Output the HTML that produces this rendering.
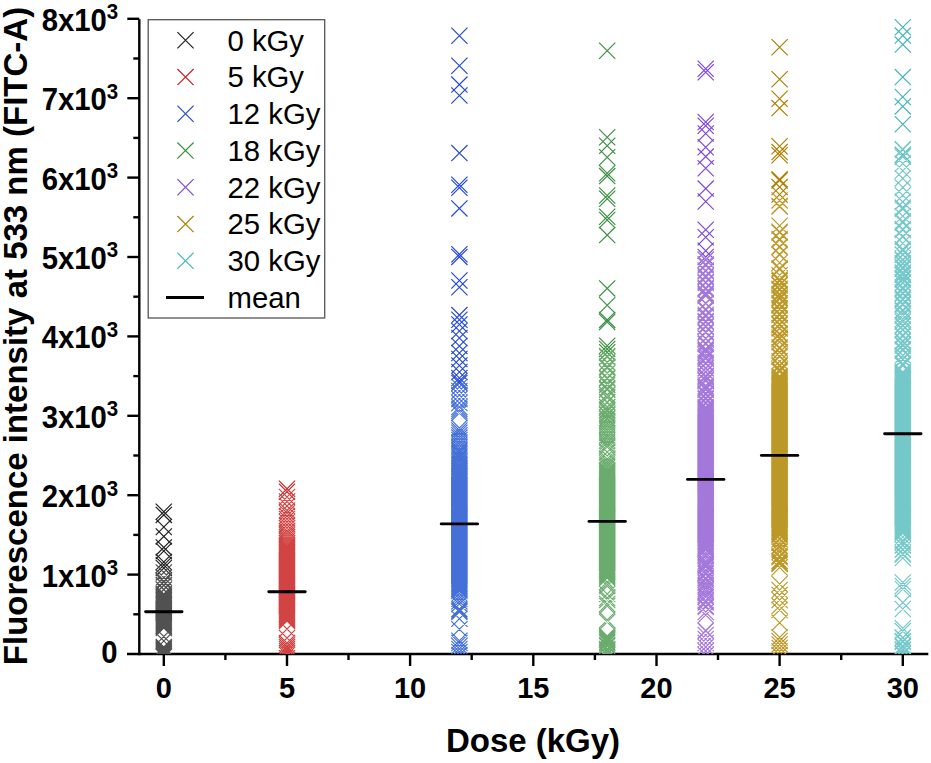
<!DOCTYPE html><html><head><meta charset="utf-8"><style>html,body{margin:0;padding:0;background:#fff;width:931px;height:763px;overflow:hidden}svg{display:block}</style></head><body><svg width="931" height="763" viewBox="0 0 931 763"><defs><clipPath id="cp"><rect x="139" y="0" width="792" height="654"/></clipPath></defs><g stroke="#000" stroke-width="2.4"><line x1="139.3" y1="19.3" x2="139.3" y2="655.2"/><line x1="127" y1="654" x2="928.3" y2="654"/><line x1="133.3" y1="614.3" x2="139.3" y2="614.3"/><line x1="127.3" y1="574.6" x2="139.3" y2="574.6"/><line x1="133.3" y1="534.9" x2="139.3" y2="534.9"/><line x1="127.3" y1="495.2" x2="139.3" y2="495.2"/><line x1="133.3" y1="455.5" x2="139.3" y2="455.5"/><line x1="127.3" y1="415.8" x2="139.3" y2="415.8"/><line x1="133.3" y1="376.1" x2="139.3" y2="376.1"/><line x1="127.3" y1="336.4" x2="139.3" y2="336.4"/><line x1="133.3" y1="296.7" x2="139.3" y2="296.7"/><line x1="127.3" y1="257.0" x2="139.3" y2="257.0"/><line x1="133.3" y1="217.3" x2="139.3" y2="217.3"/><line x1="127.3" y1="177.6" x2="139.3" y2="177.6"/><line x1="133.3" y1="137.9" x2="139.3" y2="137.9"/><line x1="127.3" y1="98.2" x2="139.3" y2="98.2"/><line x1="133.3" y1="58.5" x2="139.3" y2="58.5"/><line x1="127.3" y1="18.8" x2="139.3" y2="18.8"/><line x1="163.8" y1="654" x2="163.8" y2="666"/><line x1="225.4" y1="654" x2="225.4" y2="660"/><line x1="287.0" y1="654" x2="287.0" y2="666"/><line x1="348.5" y1="654" x2="348.5" y2="660"/><line x1="410.1" y1="654" x2="410.1" y2="666"/><line x1="471.7" y1="654" x2="471.7" y2="660"/><line x1="533.3" y1="654" x2="533.3" y2="666"/><line x1="594.9" y1="654" x2="594.9" y2="660"/><line x1="656.5" y1="654" x2="656.5" y2="666"/><line x1="718.0" y1="654" x2="718.0" y2="660"/><line x1="779.6" y1="654" x2="779.6" y2="666"/><line x1="841.2" y1="654" x2="841.2" y2="660"/><line x1="902.8" y1="654" x2="902.8" y2="666"/></g><g clip-path="url(#cp)" fill="none" stroke-width="1.2"><path stroke="#222222" d="M155.7 503.6l16.2 16.2M171.9 503.6l-16.2 16.2M155.7 506.8l16.2 16.2M171.9 506.8l-16.2 16.2M155.7 518.9l16.2 16.2M171.9 518.9l-16.2 16.2M155.7 528.3l16.2 16.2M171.9 528.3l-16.2 16.2M155.7 539.3l16.2 16.2M171.9 539.3l-16.2 16.2M155.7 542.9l16.2 16.2M171.9 542.9l-16.2 16.2M155.7 553.9l16.2 16.2M171.9 553.9l-16.2 16.2M155.7 556.9l16.2 16.2M171.9 556.9l-16.2 16.2M155.7 559.9l16.2 16.2M171.9 559.9l-16.2 16.2"/><path stroke="#515151" d="M155.7 564.3l16.2 16.2M171.9 564.3l-16.2 16.2M155.7 564.4l16.2 16.2M171.9 564.4l-16.2 16.2M155.7 569.5l16.2 16.2M171.9 569.5l-16.2 16.2M155.7 569.4l16.2 16.2M171.9 569.4l-16.2 16.2M155.7 573.8l16.2 16.2M171.9 573.8l-16.2 16.2M155.7 572.5l16.2 16.2M171.9 572.5l-16.2 16.2M155.7 577.4l16.2 16.2M171.9 577.4l-16.2 16.2M155.7 577.0l16.2 16.2M171.9 577.0l-16.2 16.2M155.7 581.6l16.2 16.2M171.9 581.6l-16.2 16.2M155.7 581.3l16.2 16.2M171.9 581.3l-16.2 16.2M155.7 585.9l16.2 16.2M171.9 585.9l-16.2 16.2M155.7 586.9l16.2 16.2M171.9 586.9l-16.2 16.2M155.7 587.9l16.2 16.2M171.9 587.9l-16.2 16.2M155.7 588.9l16.2 16.2M171.9 588.9l-16.2 16.2M155.7 589.9l16.2 16.2M171.9 589.9l-16.2 16.2M155.7 590.9l16.2 16.2M171.9 590.9l-16.2 16.2M155.7 591.9l16.2 16.2M171.9 591.9l-16.2 16.2M155.7 592.9l16.2 16.2M171.9 592.9l-16.2 16.2M155.7 593.9l16.2 16.2M171.9 593.9l-16.2 16.2M155.7 594.9l16.2 16.2M171.9 594.9l-16.2 16.2M155.7 595.9l16.2 16.2M171.9 595.9l-16.2 16.2M155.7 596.9l16.2 16.2M171.9 596.9l-16.2 16.2M155.7 597.9l16.2 16.2M171.9 597.9l-16.2 16.2M155.7 598.9l16.2 16.2M171.9 598.9l-16.2 16.2M155.7 599.9l16.2 16.2M171.9 599.9l-16.2 16.2M155.7 600.9l16.2 16.2M171.9 600.9l-16.2 16.2M155.7 601.9l16.2 16.2M171.9 601.9l-16.2 16.2M155.7 602.9l16.2 16.2M171.9 602.9l-16.2 16.2M155.7 603.9l16.2 16.2M171.9 603.9l-16.2 16.2M155.7 604.9l16.2 16.2M171.9 604.9l-16.2 16.2M155.7 605.9l16.2 16.2M171.9 605.9l-16.2 16.2M155.7 606.9l16.2 16.2M171.9 606.9l-16.2 16.2M155.7 607.9l16.2 16.2M171.9 607.9l-16.2 16.2M155.7 608.9l16.2 16.2M171.9 608.9l-16.2 16.2M155.7 609.9l16.2 16.2M171.9 609.9l-16.2 16.2M155.7 610.9l16.2 16.2M171.9 610.9l-16.2 16.2M155.7 611.9l16.2 16.2M171.9 611.9l-16.2 16.2M155.7 612.9l16.2 16.2M171.9 612.9l-16.2 16.2M155.7 613.9l16.2 16.2M171.9 613.9l-16.2 16.2M155.7 614.9l16.2 16.2M171.9 614.9l-16.2 16.2M155.7 615.9l16.2 16.2M171.9 615.9l-16.2 16.2M155.7 616.9l16.2 16.2M171.9 616.9l-16.2 16.2M155.7 617.9l16.2 16.2M171.9 617.9l-16.2 16.2M155.7 618.9l16.2 16.2M171.9 618.9l-16.2 16.2M155.7 619.9l16.2 16.2M171.9 619.9l-16.2 16.2M155.7 638.9l16.2 16.2M171.9 638.9l-16.2 16.2M155.7 639.9l16.2 16.2M171.9 639.9l-16.2 16.2M155.7 640.9l16.2 16.2M171.9 640.9l-16.2 16.2M155.7 641.9l16.2 16.2M171.9 641.9l-16.2 16.2M155.7 642.9l16.2 16.2M171.9 642.9l-16.2 16.2M155.7 643.9l16.2 16.2M171.9 643.9l-16.2 16.2M155.7 644.9l16.2 16.2M171.9 644.9l-16.2 16.2M155.7 645.9l16.2 16.2M171.9 645.9l-16.2 16.2M155.7 646.9l16.2 16.2M171.9 646.9l-16.2 16.2M155.7 647.9l16.2 16.2M171.9 647.9l-16.2 16.2M155.7 648.9l16.2 16.2M171.9 648.9l-16.2 16.2M155.7 628.4l16.2 16.2M171.9 628.4l-16.2 16.2M155.7 632.9l16.2 16.2M171.9 632.9l-16.2 16.2"/><path stroke="#cc2222" d="M278.9 480.7l16.2 16.2M295.1 480.7l-16.2 16.2M278.9 483.7l16.2 16.2M295.1 483.7l-16.2 16.2"/><path stroke="#d24343" d="M278.9 488.9l16.2 16.2M295.1 488.9l-16.2 16.2M278.9 493.4l16.2 16.2M295.1 493.4l-16.2 16.2M278.9 497.9l16.2 16.2M295.1 497.9l-16.2 16.2M278.9 502.4l16.2 16.2M295.1 502.4l-16.2 16.2M278.9 504.9l16.2 16.2M295.1 504.9l-16.2 16.2M278.9 507.9l16.2 16.2M295.1 507.9l-16.2 16.2M278.9 510.9l16.2 16.2M295.1 510.9l-16.2 16.2M278.9 513.9l16.2 16.2M295.1 513.9l-16.2 16.2M278.9 516.9l16.2 16.2M295.1 516.9l-16.2 16.2M278.9 519.9l16.2 16.2M295.1 519.9l-16.2 16.2M278.9 522.9l16.2 16.2M295.1 522.9l-16.2 16.2M278.9 524.9l16.2 16.2M295.1 524.9l-16.2 16.2M278.9 526.9l16.2 16.2M295.1 526.9l-16.2 16.2M278.9 528.9l16.2 16.2M295.1 528.9l-16.2 16.2M278.9 530.9l16.2 16.2M295.1 530.9l-16.2 16.2M278.9 532.9l16.2 16.2M295.1 532.9l-16.2 16.2M278.9 534.9l16.2 16.2M295.1 534.9l-16.2 16.2M278.9 536.9l16.2 16.2M295.1 536.9l-16.2 16.2M278.9 536.9l16.2 16.2M295.1 536.9l-16.2 16.2M278.9 537.9l16.2 16.2M295.1 537.9l-16.2 16.2M278.9 538.9l16.2 16.2M295.1 538.9l-16.2 16.2M278.9 539.9l16.2 16.2M295.1 539.9l-16.2 16.2M278.9 540.9l16.2 16.2M295.1 540.9l-16.2 16.2M278.9 541.9l16.2 16.2M295.1 541.9l-16.2 16.2M278.9 542.9l16.2 16.2M295.1 542.9l-16.2 16.2M278.9 543.9l16.2 16.2M295.1 543.9l-16.2 16.2M278.9 544.9l16.2 16.2M295.1 544.9l-16.2 16.2M278.9 545.9l16.2 16.2M295.1 545.9l-16.2 16.2M278.9 546.9l16.2 16.2M295.1 546.9l-16.2 16.2M278.9 547.9l16.2 16.2M295.1 547.9l-16.2 16.2M278.9 548.9l16.2 16.2M295.1 548.9l-16.2 16.2M278.9 549.9l16.2 16.2M295.1 549.9l-16.2 16.2M278.9 550.9l16.2 16.2M295.1 550.9l-16.2 16.2M278.9 551.9l16.2 16.2M295.1 551.9l-16.2 16.2M278.9 552.9l16.2 16.2M295.1 552.9l-16.2 16.2M278.9 553.9l16.2 16.2M295.1 553.9l-16.2 16.2M278.9 554.9l16.2 16.2M295.1 554.9l-16.2 16.2M278.9 555.9l16.2 16.2M295.1 555.9l-16.2 16.2M278.9 556.9l16.2 16.2M295.1 556.9l-16.2 16.2M278.9 557.9l16.2 16.2M295.1 557.9l-16.2 16.2M278.9 558.9l16.2 16.2M295.1 558.9l-16.2 16.2M278.9 559.9l16.2 16.2M295.1 559.9l-16.2 16.2M278.9 560.9l16.2 16.2M295.1 560.9l-16.2 16.2M278.9 561.9l16.2 16.2M295.1 561.9l-16.2 16.2M278.9 562.9l16.2 16.2M295.1 562.9l-16.2 16.2M278.9 563.9l16.2 16.2M295.1 563.9l-16.2 16.2M278.9 564.9l16.2 16.2M295.1 564.9l-16.2 16.2M278.9 565.9l16.2 16.2M295.1 565.9l-16.2 16.2M278.9 566.9l16.2 16.2M295.1 566.9l-16.2 16.2M278.9 567.9l16.2 16.2M295.1 567.9l-16.2 16.2M278.9 568.9l16.2 16.2M295.1 568.9l-16.2 16.2M278.9 569.9l16.2 16.2M295.1 569.9l-16.2 16.2M278.9 570.9l16.2 16.2M295.1 570.9l-16.2 16.2M278.9 571.9l16.2 16.2M295.1 571.9l-16.2 16.2M278.9 572.9l16.2 16.2M295.1 572.9l-16.2 16.2M278.9 573.9l16.2 16.2M295.1 573.9l-16.2 16.2M278.9 574.9l16.2 16.2M295.1 574.9l-16.2 16.2M278.9 575.9l16.2 16.2M295.1 575.9l-16.2 16.2M278.9 576.9l16.2 16.2M295.1 576.9l-16.2 16.2M278.9 577.9l16.2 16.2M295.1 577.9l-16.2 16.2M278.9 578.9l16.2 16.2M295.1 578.9l-16.2 16.2M278.9 579.9l16.2 16.2M295.1 579.9l-16.2 16.2M278.9 580.9l16.2 16.2M295.1 580.9l-16.2 16.2M278.9 581.9l16.2 16.2M295.1 581.9l-16.2 16.2M278.9 582.9l16.2 16.2M295.1 582.9l-16.2 16.2M278.9 583.9l16.2 16.2M295.1 583.9l-16.2 16.2M278.9 584.9l16.2 16.2M295.1 584.9l-16.2 16.2M278.9 585.9l16.2 16.2M295.1 585.9l-16.2 16.2M278.9 586.9l16.2 16.2M295.1 586.9l-16.2 16.2M278.9 587.9l16.2 16.2M295.1 587.9l-16.2 16.2M278.9 588.9l16.2 16.2M295.1 588.9l-16.2 16.2M278.9 589.9l16.2 16.2M295.1 589.9l-16.2 16.2M278.9 590.9l16.2 16.2M295.1 590.9l-16.2 16.2M278.9 591.9l16.2 16.2M295.1 591.9l-16.2 16.2M278.9 592.9l16.2 16.2M295.1 592.9l-16.2 16.2M278.9 593.9l16.2 16.2M295.1 593.9l-16.2 16.2M278.9 594.9l16.2 16.2M295.1 594.9l-16.2 16.2M278.9 595.9l16.2 16.2M295.1 595.9l-16.2 16.2M278.9 596.9l16.2 16.2M295.1 596.9l-16.2 16.2M278.9 597.9l16.2 16.2M295.1 597.9l-16.2 16.2M278.9 598.9l16.2 16.2M295.1 598.9l-16.2 16.2M278.9 599.9l16.2 16.2M295.1 599.9l-16.2 16.2M278.9 600.9l16.2 16.2M295.1 600.9l-16.2 16.2M278.9 601.9l16.2 16.2M295.1 601.9l-16.2 16.2M278.9 602.9l16.2 16.2M295.1 602.9l-16.2 16.2M278.9 603.9l16.2 16.2M295.1 603.9l-16.2 16.2M278.9 604.9l16.2 16.2M295.1 604.9l-16.2 16.2M278.9 605.9l16.2 16.2M295.1 605.9l-16.2 16.2M278.9 606.9l16.2 16.2M295.1 606.9l-16.2 16.2M278.9 607.9l16.2 16.2M295.1 607.9l-16.2 16.2M278.9 608.9l16.2 16.2M295.1 608.9l-16.2 16.2M278.9 609.9l16.2 16.2M295.1 609.9l-16.2 16.2M278.9 610.9l16.2 16.2M295.1 610.9l-16.2 16.2M278.9 611.9l16.2 16.2M295.1 611.9l-16.2 16.2M278.9 612.9l16.2 16.2M295.1 612.9l-16.2 16.2M278.9 634.9l16.2 16.2M295.1 634.9l-16.2 16.2M278.9 636.9l16.2 16.2M295.1 636.9l-16.2 16.2M278.9 638.9l16.2 16.2M295.1 638.9l-16.2 16.2M278.9 640.9l16.2 16.2M295.1 640.9l-16.2 16.2M278.9 642.9l16.2 16.2M295.1 642.9l-16.2 16.2M278.9 644.9l16.2 16.2M295.1 644.9l-16.2 16.2M278.9 646.9l16.2 16.2M295.1 646.9l-16.2 16.2M278.9 620.9l16.2 16.2M295.1 620.9l-16.2 16.2M278.9 629.9l16.2 16.2M295.1 629.9l-16.2 16.2"/><path stroke="#2448d8" d="M451.3 27.6l16.2 16.2M467.5 27.6l-16.2 16.2M451.3 57.6l16.2 16.2M467.5 57.6l-16.2 16.2M451.3 76.5l16.2 16.2M467.5 76.5l-16.2 16.2M451.3 87.4l16.2 16.2M467.5 87.4l-16.2 16.2M451.3 145.0l16.2 16.2M467.5 145.0l-16.2 16.2M451.3 176.6l16.2 16.2M467.5 176.6l-16.2 16.2M451.3 179.7l16.2 16.2M467.5 179.7l-16.2 16.2M451.3 200.3l16.2 16.2M467.5 200.3l-16.2 16.2M451.3 246.2l16.2 16.2M467.5 246.2l-16.2 16.2M451.3 248.8l16.2 16.2M467.5 248.8l-16.2 16.2M451.3 272.4l16.2 16.2M467.5 272.4l-16.2 16.2M451.3 279.2l16.2 16.2M467.5 279.2l-16.2 16.2M451.3 307.0l16.2 16.2M467.5 307.0l-16.2 16.2M451.3 311.7l16.2 16.2M467.5 311.7l-16.2 16.2M451.3 316.4l16.2 16.2M467.5 316.4l-16.2 16.2M451.3 322.9l16.2 16.2M467.5 322.9l-16.2 16.2M451.3 329.9l16.2 16.2M467.5 329.9l-16.2 16.2M451.3 337.9l16.2 16.2M467.5 337.9l-16.2 16.2M451.3 344.9l16.2 16.2M467.5 344.9l-16.2 16.2M451.3 350.9l16.2 16.2M467.5 350.9l-16.2 16.2M451.3 357.4l16.2 16.2M467.5 357.4l-16.2 16.2M451.3 363.9l16.2 16.2M467.5 363.9l-16.2 16.2M451.3 369.9l16.2 16.2M467.5 369.9l-16.2 16.2M451.3 372.9l16.2 16.2M467.5 372.9l-16.2 16.2M451.3 374.9l16.2 16.2M467.5 374.9l-16.2 16.2"/><path stroke="#4470d8" d="M451.3 378.9l16.2 16.2M467.5 378.9l-16.2 16.2M451.3 382.9l16.2 16.2M467.5 382.9l-16.2 16.2M451.3 386.9l16.2 16.2M467.5 386.9l-16.2 16.2M451.3 390.9l16.2 16.2M467.5 390.9l-16.2 16.2M451.3 394.9l16.2 16.2M467.5 394.9l-16.2 16.2M451.3 398.9l16.2 16.2M467.5 398.9l-16.2 16.2M451.3 402.9l16.2 16.2M467.5 402.9l-16.2 16.2M451.3 419.9l16.2 16.2M467.5 419.9l-16.2 16.2M451.3 422.3l16.2 16.2M467.5 422.3l-16.2 16.2M451.3 424.7l16.2 16.2M467.5 424.7l-16.2 16.2M451.3 427.1l16.2 16.2M467.5 427.1l-16.2 16.2M451.3 429.5l16.2 16.2M467.5 429.5l-16.2 16.2M451.3 431.9l16.2 16.2M467.5 431.9l-16.2 16.2M451.3 434.3l16.2 16.2M467.5 434.3l-16.2 16.2M451.3 436.7l16.2 16.2M467.5 436.7l-16.2 16.2M451.3 439.1l16.2 16.2M467.5 439.1l-16.2 16.2M451.3 441.5l16.2 16.2M467.5 441.5l-16.2 16.2M451.3 442.8l16.2 16.2M467.5 442.8l-16.2 16.2M451.3 444.7l16.2 16.2M467.5 444.7l-16.2 16.2M451.3 445.8l16.2 16.2M467.5 445.8l-16.2 16.2M451.3 447.8l16.2 16.2M467.5 447.8l-16.2 16.2M451.3 449.3l16.2 16.2M467.5 449.3l-16.2 16.2M451.3 450.7l16.2 16.2M467.5 450.7l-16.2 16.2M451.3 452.8l16.2 16.2M467.5 452.8l-16.2 16.2M451.3 453.8l16.2 16.2M467.5 453.8l-16.2 16.2M451.3 455.9l16.2 16.2M467.5 455.9l-16.2 16.2M451.3 457.6l16.2 16.2M467.5 457.6l-16.2 16.2M451.3 458.7l16.2 16.2M467.5 458.7l-16.2 16.2M451.3 460.3l16.2 16.2M467.5 460.3l-16.2 16.2M451.3 461.9l16.2 16.2M467.5 461.9l-16.2 16.2M451.3 462.9l16.2 16.2M467.5 462.9l-16.2 16.2M451.3 463.9l16.2 16.2M467.5 463.9l-16.2 16.2M451.3 464.9l16.2 16.2M467.5 464.9l-16.2 16.2M451.3 465.9l16.2 16.2M467.5 465.9l-16.2 16.2M451.3 466.9l16.2 16.2M467.5 466.9l-16.2 16.2M451.3 467.9l16.2 16.2M467.5 467.9l-16.2 16.2M451.3 468.9l16.2 16.2M467.5 468.9l-16.2 16.2M451.3 469.9l16.2 16.2M467.5 469.9l-16.2 16.2M451.3 470.9l16.2 16.2M467.5 470.9l-16.2 16.2M451.3 471.9l16.2 16.2M467.5 471.9l-16.2 16.2M451.3 472.9l16.2 16.2M467.5 472.9l-16.2 16.2M451.3 473.9l16.2 16.2M467.5 473.9l-16.2 16.2M451.3 474.9l16.2 16.2M467.5 474.9l-16.2 16.2M451.3 475.9l16.2 16.2M467.5 475.9l-16.2 16.2M451.3 476.9l16.2 16.2M467.5 476.9l-16.2 16.2M451.3 477.9l16.2 16.2M467.5 477.9l-16.2 16.2M451.3 478.9l16.2 16.2M467.5 478.9l-16.2 16.2M451.3 479.9l16.2 16.2M467.5 479.9l-16.2 16.2M451.3 480.9l16.2 16.2M467.5 480.9l-16.2 16.2M451.3 481.9l16.2 16.2M467.5 481.9l-16.2 16.2M451.3 482.9l16.2 16.2M467.5 482.9l-16.2 16.2M451.3 483.9l16.2 16.2M467.5 483.9l-16.2 16.2M451.3 484.9l16.2 16.2M467.5 484.9l-16.2 16.2M451.3 485.9l16.2 16.2M467.5 485.9l-16.2 16.2M451.3 486.9l16.2 16.2M467.5 486.9l-16.2 16.2M451.3 487.9l16.2 16.2M467.5 487.9l-16.2 16.2M451.3 488.9l16.2 16.2M467.5 488.9l-16.2 16.2M451.3 489.9l16.2 16.2M467.5 489.9l-16.2 16.2M451.3 490.9l16.2 16.2M467.5 490.9l-16.2 16.2M451.3 491.9l16.2 16.2M467.5 491.9l-16.2 16.2M451.3 492.9l16.2 16.2M467.5 492.9l-16.2 16.2M451.3 493.9l16.2 16.2M467.5 493.9l-16.2 16.2M451.3 494.9l16.2 16.2M467.5 494.9l-16.2 16.2M451.3 495.9l16.2 16.2M467.5 495.9l-16.2 16.2M451.3 496.9l16.2 16.2M467.5 496.9l-16.2 16.2M451.3 497.9l16.2 16.2M467.5 497.9l-16.2 16.2M451.3 498.9l16.2 16.2M467.5 498.9l-16.2 16.2M451.3 499.9l16.2 16.2M467.5 499.9l-16.2 16.2M451.3 500.9l16.2 16.2M467.5 500.9l-16.2 16.2M451.3 501.9l16.2 16.2M467.5 501.9l-16.2 16.2M451.3 502.9l16.2 16.2M467.5 502.9l-16.2 16.2M451.3 503.9l16.2 16.2M467.5 503.9l-16.2 16.2M451.3 504.9l16.2 16.2M467.5 504.9l-16.2 16.2M451.3 505.9l16.2 16.2M467.5 505.9l-16.2 16.2M451.3 506.9l16.2 16.2M467.5 506.9l-16.2 16.2M451.3 507.9l16.2 16.2M467.5 507.9l-16.2 16.2M451.3 508.9l16.2 16.2M467.5 508.9l-16.2 16.2M451.3 509.9l16.2 16.2M467.5 509.9l-16.2 16.2M451.3 510.9l16.2 16.2M467.5 510.9l-16.2 16.2M451.3 511.9l16.2 16.2M467.5 511.9l-16.2 16.2M451.3 512.9l16.2 16.2M467.5 512.9l-16.2 16.2M451.3 513.9l16.2 16.2M467.5 513.9l-16.2 16.2M451.3 514.9l16.2 16.2M467.5 514.9l-16.2 16.2M451.3 515.9l16.2 16.2M467.5 515.9l-16.2 16.2M451.3 516.9l16.2 16.2M467.5 516.9l-16.2 16.2M451.3 517.9l16.2 16.2M467.5 517.9l-16.2 16.2M451.3 518.9l16.2 16.2M467.5 518.9l-16.2 16.2M451.3 519.9l16.2 16.2M467.5 519.9l-16.2 16.2M451.3 520.9l16.2 16.2M467.5 520.9l-16.2 16.2M451.3 521.9l16.2 16.2M467.5 521.9l-16.2 16.2M451.3 522.9l16.2 16.2M467.5 522.9l-16.2 16.2M451.3 523.9l16.2 16.2M467.5 523.9l-16.2 16.2M451.3 524.9l16.2 16.2M467.5 524.9l-16.2 16.2M451.3 525.9l16.2 16.2M467.5 525.9l-16.2 16.2M451.3 526.9l16.2 16.2M467.5 526.9l-16.2 16.2M451.3 527.9l16.2 16.2M467.5 527.9l-16.2 16.2M451.3 528.9l16.2 16.2M467.5 528.9l-16.2 16.2M451.3 529.9l16.2 16.2M467.5 529.9l-16.2 16.2M451.3 530.9l16.2 16.2M467.5 530.9l-16.2 16.2M451.3 531.9l16.2 16.2M467.5 531.9l-16.2 16.2M451.3 532.9l16.2 16.2M467.5 532.9l-16.2 16.2M451.3 533.9l16.2 16.2M467.5 533.9l-16.2 16.2M451.3 534.9l16.2 16.2M467.5 534.9l-16.2 16.2M451.3 535.9l16.2 16.2M467.5 535.9l-16.2 16.2M451.3 536.9l16.2 16.2M467.5 536.9l-16.2 16.2M451.3 537.9l16.2 16.2M467.5 537.9l-16.2 16.2M451.3 538.9l16.2 16.2M467.5 538.9l-16.2 16.2M451.3 539.9l16.2 16.2M467.5 539.9l-16.2 16.2M451.3 540.9l16.2 16.2M467.5 540.9l-16.2 16.2M451.3 541.9l16.2 16.2M467.5 541.9l-16.2 16.2M451.3 542.9l16.2 16.2M467.5 542.9l-16.2 16.2M451.3 543.9l16.2 16.2M467.5 543.9l-16.2 16.2M451.3 544.9l16.2 16.2M467.5 544.9l-16.2 16.2M451.3 545.9l16.2 16.2M467.5 545.9l-16.2 16.2M451.3 546.9l16.2 16.2M467.5 546.9l-16.2 16.2M451.3 547.9l16.2 16.2M467.5 547.9l-16.2 16.2M451.3 548.9l16.2 16.2M467.5 548.9l-16.2 16.2M451.3 549.9l16.2 16.2M467.5 549.9l-16.2 16.2M451.3 550.9l16.2 16.2M467.5 550.9l-16.2 16.2M451.3 551.9l16.2 16.2M467.5 551.9l-16.2 16.2M451.3 552.9l16.2 16.2M467.5 552.9l-16.2 16.2M451.3 553.9l16.2 16.2M467.5 553.9l-16.2 16.2M451.3 554.9l16.2 16.2M467.5 554.9l-16.2 16.2M451.3 555.9l16.2 16.2M467.5 555.9l-16.2 16.2M451.3 556.9l16.2 16.2M467.5 556.9l-16.2 16.2M451.3 557.9l16.2 16.2M467.5 557.9l-16.2 16.2M451.3 558.9l16.2 16.2M467.5 558.9l-16.2 16.2M451.3 559.9l16.2 16.2M467.5 559.9l-16.2 16.2M451.3 560.9l16.2 16.2M467.5 560.9l-16.2 16.2M451.3 561.9l16.2 16.2M467.5 561.9l-16.2 16.2M451.3 562.9l16.2 16.2M467.5 562.9l-16.2 16.2M451.3 563.9l16.2 16.2M467.5 563.9l-16.2 16.2M451.3 564.9l16.2 16.2M467.5 564.9l-16.2 16.2M451.3 565.9l16.2 16.2M467.5 565.9l-16.2 16.2M451.3 566.9l16.2 16.2M467.5 566.9l-16.2 16.2M451.3 567.9l16.2 16.2M467.5 567.9l-16.2 16.2M451.3 568.9l16.2 16.2M467.5 568.9l-16.2 16.2M451.3 569.9l16.2 16.2M467.5 569.9l-16.2 16.2M451.3 570.9l16.2 16.2M467.5 570.9l-16.2 16.2M451.3 571.9l16.2 16.2M467.5 571.9l-16.2 16.2M451.3 572.9l16.2 16.2M467.5 572.9l-16.2 16.2M451.3 573.9l16.2 16.2M467.5 573.9l-16.2 16.2M451.3 574.9l16.2 16.2M467.5 574.9l-16.2 16.2M451.3 575.9l16.2 16.2M467.5 575.9l-16.2 16.2M451.3 576.9l16.2 16.2M467.5 576.9l-16.2 16.2M451.3 577.9l16.2 16.2M467.5 577.9l-16.2 16.2M451.3 578.9l16.2 16.2M467.5 578.9l-16.2 16.2M451.3 579.9l16.2 16.2M467.5 579.9l-16.2 16.2M451.3 580.9l16.2 16.2M467.5 580.9l-16.2 16.2M451.3 581.9l16.2 16.2M467.5 581.9l-16.2 16.2M451.3 582.9l16.2 16.2M467.5 582.9l-16.2 16.2M451.3 582.9l16.2 16.2M467.5 582.9l-16.2 16.2M451.3 585.5l16.2 16.2M467.5 585.5l-16.2 16.2M451.3 588.1l16.2 16.2M467.5 588.1l-16.2 16.2M451.3 590.7l16.2 16.2M467.5 590.7l-16.2 16.2M451.3 593.3l16.2 16.2M467.5 593.3l-16.2 16.2M451.3 595.9l16.2 16.2M467.5 595.9l-16.2 16.2M451.3 634.9l16.2 16.2M467.5 634.9l-16.2 16.2M451.3 637.9l16.2 16.2M467.5 637.9l-16.2 16.2M451.3 640.9l16.2 16.2M467.5 640.9l-16.2 16.2M451.3 643.9l16.2 16.2M467.5 643.9l-16.2 16.2M451.3 646.9l16.2 16.2M467.5 646.9l-16.2 16.2M451.3 400.9l16.2 16.2M467.5 400.9l-16.2 16.2M451.3 404.9l16.2 16.2M467.5 404.9l-16.2 16.2M451.3 600.9l16.2 16.2M467.5 600.9l-16.2 16.2M451.3 602.4l16.2 16.2M467.5 602.4l-16.2 16.2M451.3 603.9l16.2 16.2M467.5 603.9l-16.2 16.2M451.3 610.7l16.2 16.2M467.5 610.7l-16.2 16.2M451.3 621.2l16.2 16.2M467.5 621.2l-16.2 16.2M451.3 632.7l16.2 16.2M467.5 632.7l-16.2 16.2"/><path stroke="#3c9042" d="M599.1 42.7l16.2 16.2M615.3 42.7l-16.2 16.2M599.1 129.2l16.2 16.2M615.3 129.2l-16.2 16.2M599.1 137.6l16.2 16.2M615.3 137.6l-16.2 16.2M599.1 149.2l16.2 16.2M615.3 149.2l-16.2 16.2M599.1 165.1l16.2 16.2M615.3 165.1l-16.2 16.2M599.1 168.0l16.2 16.2M615.3 168.0l-16.2 16.2M599.1 187.4l16.2 16.2M615.3 187.4l-16.2 16.2M599.1 190.7l16.2 16.2M615.3 190.7l-16.2 16.2M599.1 208.7l16.2 16.2M615.3 208.7l-16.2 16.2M599.1 211.9l16.2 16.2M615.3 211.9l-16.2 16.2M599.1 227.0l16.2 16.2M615.3 227.0l-16.2 16.2M599.1 280.3l16.2 16.2M615.3 280.3l-16.2 16.2M599.1 297.1l16.2 16.2M615.3 297.1l-16.2 16.2M599.1 311.8l16.2 16.2M615.3 311.8l-16.2 16.2M599.1 313.9l16.2 16.2M615.3 313.9l-16.2 16.2M599.1 337.6l16.2 16.2M615.3 337.6l-16.2 16.2M599.1 340.9l16.2 16.2M615.3 340.9l-16.2 16.2M599.1 344.1l16.2 16.2M615.3 344.1l-16.2 16.2"/><path stroke="#6aac6d" d="M599.1 348.8l16.2 16.2M615.3 348.8l-16.2 16.2M599.1 348.0l16.2 16.2M615.3 348.0l-16.2 16.2M599.1 348.3l16.2 16.2M615.3 348.3l-16.2 16.2M599.1 354.3l16.2 16.2M615.3 354.3l-16.2 16.2M599.1 354.2l16.2 16.2M615.3 354.2l-16.2 16.2M599.1 358.8l16.2 16.2M615.3 358.8l-16.2 16.2M599.1 359.9l16.2 16.2M615.3 359.9l-16.2 16.2M599.1 358.5l16.2 16.2M615.3 358.5l-16.2 16.2M599.1 364.9l16.2 16.2M615.3 364.9l-16.2 16.2M599.1 365.1l16.2 16.2M615.3 365.1l-16.2 16.2M599.1 370.6l16.2 16.2M615.3 370.6l-16.2 16.2M599.1 369.9l16.2 16.2M615.3 369.9l-16.2 16.2M599.1 369.6l16.2 16.2M615.3 369.6l-16.2 16.2M599.1 375.0l16.2 16.2M615.3 375.0l-16.2 16.2M599.1 376.8l16.2 16.2M615.3 376.8l-16.2 16.2M599.1 381.7l16.2 16.2M615.3 381.7l-16.2 16.2M599.1 380.1l16.2 16.2M615.3 380.1l-16.2 16.2M599.1 381.6l16.2 16.2M615.3 381.6l-16.2 16.2M599.1 386.7l16.2 16.2M615.3 386.7l-16.2 16.2M599.1 387.2l16.2 16.2M615.3 387.2l-16.2 16.2M599.1 389.1l16.2 16.2M615.3 389.1l-16.2 16.2M599.1 389.4l16.2 16.2M615.3 389.4l-16.2 16.2M599.1 394.0l16.2 16.2M615.3 394.0l-16.2 16.2M599.1 394.0l16.2 16.2M615.3 394.0l-16.2 16.2M599.1 394.3l16.2 16.2M615.3 394.3l-16.2 16.2M599.1 398.8l16.2 16.2M615.3 398.8l-16.2 16.2M599.1 399.2l16.2 16.2M615.3 399.2l-16.2 16.2M599.1 401.5l16.2 16.2M615.3 401.5l-16.2 16.2M599.1 403.3l16.2 16.2M615.3 403.3l-16.2 16.2M599.1 401.6l16.2 16.2M615.3 401.6l-16.2 16.2M599.1 407.1l16.2 16.2M615.3 407.1l-16.2 16.2M599.1 405.9l16.2 16.2M615.3 405.9l-16.2 16.2M599.1 407.1l16.2 16.2M615.3 407.1l-16.2 16.2M599.1 410.7l16.2 16.2M615.3 410.7l-16.2 16.2M599.1 409.9l16.2 16.2M615.3 409.9l-16.2 16.2M599.1 410.9l16.2 16.2M615.3 410.9l-16.2 16.2M599.1 412.9l16.2 16.2M615.3 412.9l-16.2 16.2M599.1 415.3l16.2 16.2M615.3 415.3l-16.2 16.2M599.1 417.7l16.2 16.2M615.3 417.7l-16.2 16.2M599.1 420.1l16.2 16.2M615.3 420.1l-16.2 16.2M599.1 422.5l16.2 16.2M615.3 422.5l-16.2 16.2M599.1 424.9l16.2 16.2M615.3 424.9l-16.2 16.2M599.1 427.3l16.2 16.2M615.3 427.3l-16.2 16.2M599.1 429.7l16.2 16.2M615.3 429.7l-16.2 16.2M599.1 432.1l16.2 16.2M615.3 432.1l-16.2 16.2M599.1 434.5l16.2 16.2M615.3 434.5l-16.2 16.2M599.1 436.9l16.2 16.2M615.3 436.9l-16.2 16.2M599.1 450.9l16.2 16.2M615.3 450.9l-16.2 16.2M599.1 453.1l16.2 16.2M615.3 453.1l-16.2 16.2M599.1 455.3l16.2 16.2M615.3 455.3l-16.2 16.2M599.1 457.5l16.2 16.2M615.3 457.5l-16.2 16.2M599.1 459.7l16.2 16.2M615.3 459.7l-16.2 16.2M599.1 461.9l16.2 16.2M615.3 461.9l-16.2 16.2M599.1 461.9l16.2 16.2M615.3 461.9l-16.2 16.2M599.1 462.9l16.2 16.2M615.3 462.9l-16.2 16.2M599.1 463.9l16.2 16.2M615.3 463.9l-16.2 16.2M599.1 464.9l16.2 16.2M615.3 464.9l-16.2 16.2M599.1 465.9l16.2 16.2M615.3 465.9l-16.2 16.2M599.1 466.9l16.2 16.2M615.3 466.9l-16.2 16.2M599.1 467.9l16.2 16.2M615.3 467.9l-16.2 16.2M599.1 468.9l16.2 16.2M615.3 468.9l-16.2 16.2M599.1 469.9l16.2 16.2M615.3 469.9l-16.2 16.2M599.1 470.9l16.2 16.2M615.3 470.9l-16.2 16.2M599.1 471.9l16.2 16.2M615.3 471.9l-16.2 16.2M599.1 472.9l16.2 16.2M615.3 472.9l-16.2 16.2M599.1 473.9l16.2 16.2M615.3 473.9l-16.2 16.2M599.1 474.9l16.2 16.2M615.3 474.9l-16.2 16.2M599.1 475.9l16.2 16.2M615.3 475.9l-16.2 16.2M599.1 476.9l16.2 16.2M615.3 476.9l-16.2 16.2M599.1 477.9l16.2 16.2M615.3 477.9l-16.2 16.2M599.1 478.9l16.2 16.2M615.3 478.9l-16.2 16.2M599.1 479.9l16.2 16.2M615.3 479.9l-16.2 16.2M599.1 480.9l16.2 16.2M615.3 480.9l-16.2 16.2M599.1 481.9l16.2 16.2M615.3 481.9l-16.2 16.2M599.1 482.9l16.2 16.2M615.3 482.9l-16.2 16.2M599.1 483.9l16.2 16.2M615.3 483.9l-16.2 16.2M599.1 484.9l16.2 16.2M615.3 484.9l-16.2 16.2M599.1 485.9l16.2 16.2M615.3 485.9l-16.2 16.2M599.1 486.9l16.2 16.2M615.3 486.9l-16.2 16.2M599.1 487.9l16.2 16.2M615.3 487.9l-16.2 16.2M599.1 488.9l16.2 16.2M615.3 488.9l-16.2 16.2M599.1 489.9l16.2 16.2M615.3 489.9l-16.2 16.2M599.1 490.9l16.2 16.2M615.3 490.9l-16.2 16.2M599.1 491.9l16.2 16.2M615.3 491.9l-16.2 16.2M599.1 492.9l16.2 16.2M615.3 492.9l-16.2 16.2M599.1 493.9l16.2 16.2M615.3 493.9l-16.2 16.2M599.1 494.9l16.2 16.2M615.3 494.9l-16.2 16.2M599.1 495.9l16.2 16.2M615.3 495.9l-16.2 16.2M599.1 496.9l16.2 16.2M615.3 496.9l-16.2 16.2M599.1 497.9l16.2 16.2M615.3 497.9l-16.2 16.2M599.1 498.9l16.2 16.2M615.3 498.9l-16.2 16.2M599.1 499.9l16.2 16.2M615.3 499.9l-16.2 16.2M599.1 500.9l16.2 16.2M615.3 500.9l-16.2 16.2M599.1 501.9l16.2 16.2M615.3 501.9l-16.2 16.2M599.1 502.9l16.2 16.2M615.3 502.9l-16.2 16.2M599.1 503.9l16.2 16.2M615.3 503.9l-16.2 16.2M599.1 504.9l16.2 16.2M615.3 504.9l-16.2 16.2M599.1 505.9l16.2 16.2M615.3 505.9l-16.2 16.2M599.1 506.9l16.2 16.2M615.3 506.9l-16.2 16.2M599.1 507.9l16.2 16.2M615.3 507.9l-16.2 16.2M599.1 508.9l16.2 16.2M615.3 508.9l-16.2 16.2M599.1 509.9l16.2 16.2M615.3 509.9l-16.2 16.2M599.1 510.9l16.2 16.2M615.3 510.9l-16.2 16.2M599.1 511.9l16.2 16.2M615.3 511.9l-16.2 16.2M599.1 512.9l16.2 16.2M615.3 512.9l-16.2 16.2M599.1 513.9l16.2 16.2M615.3 513.9l-16.2 16.2M599.1 514.9l16.2 16.2M615.3 514.9l-16.2 16.2M599.1 515.9l16.2 16.2M615.3 515.9l-16.2 16.2M599.1 516.9l16.2 16.2M615.3 516.9l-16.2 16.2M599.1 517.9l16.2 16.2M615.3 517.9l-16.2 16.2M599.1 518.9l16.2 16.2M615.3 518.9l-16.2 16.2M599.1 519.9l16.2 16.2M615.3 519.9l-16.2 16.2M599.1 520.9l16.2 16.2M615.3 520.9l-16.2 16.2M599.1 521.9l16.2 16.2M615.3 521.9l-16.2 16.2M599.1 522.9l16.2 16.2M615.3 522.9l-16.2 16.2M599.1 523.9l16.2 16.2M615.3 523.9l-16.2 16.2M599.1 524.9l16.2 16.2M615.3 524.9l-16.2 16.2M599.1 525.9l16.2 16.2M615.3 525.9l-16.2 16.2M599.1 526.9l16.2 16.2M615.3 526.9l-16.2 16.2M599.1 527.9l16.2 16.2M615.3 527.9l-16.2 16.2M599.1 528.9l16.2 16.2M615.3 528.9l-16.2 16.2M599.1 529.9l16.2 16.2M615.3 529.9l-16.2 16.2M599.1 530.9l16.2 16.2M615.3 530.9l-16.2 16.2M599.1 531.9l16.2 16.2M615.3 531.9l-16.2 16.2M599.1 532.9l16.2 16.2M615.3 532.9l-16.2 16.2M599.1 533.9l16.2 16.2M615.3 533.9l-16.2 16.2M599.1 534.9l16.2 16.2M615.3 534.9l-16.2 16.2M599.1 535.9l16.2 16.2M615.3 535.9l-16.2 16.2M599.1 536.9l16.2 16.2M615.3 536.9l-16.2 16.2M599.1 537.9l16.2 16.2M615.3 537.9l-16.2 16.2M599.1 538.9l16.2 16.2M615.3 538.9l-16.2 16.2M599.1 539.9l16.2 16.2M615.3 539.9l-16.2 16.2M599.1 540.9l16.2 16.2M615.3 540.9l-16.2 16.2M599.1 541.9l16.2 16.2M615.3 541.9l-16.2 16.2M599.1 542.9l16.2 16.2M615.3 542.9l-16.2 16.2M599.1 543.9l16.2 16.2M615.3 543.9l-16.2 16.2M599.1 544.9l16.2 16.2M615.3 544.9l-16.2 16.2M599.1 545.9l16.2 16.2M615.3 545.9l-16.2 16.2M599.1 546.9l16.2 16.2M615.3 546.9l-16.2 16.2M599.1 547.9l16.2 16.2M615.3 547.9l-16.2 16.2M599.1 548.9l16.2 16.2M615.3 548.9l-16.2 16.2M599.1 549.9l16.2 16.2M615.3 549.9l-16.2 16.2M599.1 550.9l16.2 16.2M615.3 550.9l-16.2 16.2M599.1 551.9l16.2 16.2M615.3 551.9l-16.2 16.2M599.1 552.9l16.2 16.2M615.3 552.9l-16.2 16.2M599.1 553.9l16.2 16.2M615.3 553.9l-16.2 16.2M599.1 554.9l16.2 16.2M615.3 554.9l-16.2 16.2M599.1 555.9l16.2 16.2M615.3 555.9l-16.2 16.2M599.1 556.9l16.2 16.2M615.3 556.9l-16.2 16.2M599.1 557.9l16.2 16.2M615.3 557.9l-16.2 16.2M599.1 558.9l16.2 16.2M615.3 558.9l-16.2 16.2M599.1 559.9l16.2 16.2M615.3 559.9l-16.2 16.2M599.1 560.9l16.2 16.2M615.3 560.9l-16.2 16.2M599.1 561.9l16.2 16.2M615.3 561.9l-16.2 16.2M599.1 562.9l16.2 16.2M615.3 562.9l-16.2 16.2M599.1 563.9l16.2 16.2M615.3 563.9l-16.2 16.2M599.1 564.9l16.2 16.2M615.3 564.9l-16.2 16.2M599.1 565.9l16.2 16.2M615.3 565.9l-16.2 16.2M599.1 566.9l16.2 16.2M615.3 566.9l-16.2 16.2M599.1 567.9l16.2 16.2M615.3 567.9l-16.2 16.2M599.1 568.9l16.2 16.2M615.3 568.9l-16.2 16.2M599.1 569.9l16.2 16.2M615.3 569.9l-16.2 16.2M599.1 629.8l16.2 16.2M615.3 629.8l-16.2 16.2M599.1 628.3l16.2 16.2M615.3 628.3l-16.2 16.2M599.1 630.5l16.2 16.2M615.3 630.5l-16.2 16.2M599.1 631.8l16.2 16.2M615.3 631.8l-16.2 16.2M599.1 631.1l16.2 16.2M615.3 631.1l-16.2 16.2M599.1 633.4l16.2 16.2M615.3 633.4l-16.2 16.2M599.1 634.9l16.2 16.2M615.3 634.9l-16.2 16.2M599.1 634.3l16.2 16.2M615.3 634.3l-16.2 16.2M599.1 638.0l16.2 16.2M615.3 638.0l-16.2 16.2M599.1 636.8l16.2 16.2M615.3 636.8l-16.2 16.2M599.1 640.9l16.2 16.2M615.3 640.9l-16.2 16.2M599.1 641.2l16.2 16.2M615.3 641.2l-16.2 16.2M599.1 643.0l16.2 16.2M615.3 643.0l-16.2 16.2M599.1 642.4l16.2 16.2M615.3 642.4l-16.2 16.2M599.1 643.1l16.2 16.2M615.3 643.1l-16.2 16.2M599.1 646.7l16.2 16.2M615.3 646.7l-16.2 16.2M599.1 645.7l16.2 16.2M615.3 645.7l-16.2 16.2M599.1 438.9l16.2 16.2M615.3 438.9l-16.2 16.2M599.1 443.9l16.2 16.2M615.3 443.9l-16.2 16.2M599.1 447.9l16.2 16.2M615.3 447.9l-16.2 16.2M599.1 573.9l16.2 16.2M615.3 573.9l-16.2 16.2M599.1 575.9l16.2 16.2M615.3 575.9l-16.2 16.2M599.1 577.9l16.2 16.2M615.3 577.9l-16.2 16.2M599.1 585.9l16.2 16.2M615.3 585.9l-16.2 16.2M599.1 589.9l16.2 16.2M615.3 589.9l-16.2 16.2M599.1 591.9l16.2 16.2M615.3 591.9l-16.2 16.2M599.1 595.9l16.2 16.2M615.3 595.9l-16.2 16.2M599.1 597.9l16.2 16.2M615.3 597.9l-16.2 16.2M599.1 611.9l16.2 16.2M615.3 611.9l-16.2 16.2M599.1 613.9l16.2 16.2M615.3 613.9l-16.2 16.2M599.1 627.9l16.2 16.2M615.3 627.9l-16.2 16.2"/><path stroke="#7e46d8" d="M697.6 60.7l16.2 16.2M713.8 60.7l-16.2 16.2M697.6 64.1l16.2 16.2M713.8 64.1l-16.2 16.2M697.6 113.9l16.2 16.2M713.8 113.9l-16.2 16.2M697.6 117.6l16.2 16.2M713.8 117.6l-16.2 16.2M697.6 125.4l16.2 16.2M713.8 125.4l-16.2 16.2M697.6 139.1l16.2 16.2M713.8 139.1l-16.2 16.2M697.6 148.5l16.2 16.2M713.8 148.5l-16.2 16.2M697.6 160.1l16.2 16.2M713.8 160.1l-16.2 16.2M697.6 180.5l16.2 16.2M713.8 180.5l-16.2 16.2M697.6 193.4l16.2 16.2M713.8 193.4l-16.2 16.2M697.6 221.7l16.2 16.2M713.8 221.7l-16.2 16.2M697.6 229.1l16.2 16.2M713.8 229.1l-16.2 16.2M697.6 242.7l16.2 16.2M713.8 242.7l-16.2 16.2M697.6 248.9l16.2 16.2M713.8 248.9l-16.2 16.2"/><path stroke="#a477db" d="M697.6 251.9l16.2 16.2M713.8 251.9l-16.2 16.2M697.6 251.4l16.2 16.2M713.8 251.4l-16.2 16.2M697.6 251.7l16.2 16.2M713.8 251.7l-16.2 16.2M697.6 257.5l16.2 16.2M713.8 257.5l-16.2 16.2M697.6 256.9l16.2 16.2M713.8 256.9l-16.2 16.2M697.6 256.1l16.2 16.2M713.8 256.1l-16.2 16.2M697.6 262.3l16.2 16.2M713.8 262.3l-16.2 16.2M697.6 263.0l16.2 16.2M713.8 263.0l-16.2 16.2M697.6 263.1l16.2 16.2M713.8 263.1l-16.2 16.2M697.6 267.7l16.2 16.2M713.8 267.7l-16.2 16.2M697.6 269.3l16.2 16.2M713.8 269.3l-16.2 16.2M697.6 268.3l16.2 16.2M713.8 268.3l-16.2 16.2M697.6 274.8l16.2 16.2M713.8 274.8l-16.2 16.2M697.6 274.0l16.2 16.2M713.8 274.0l-16.2 16.2M697.6 280.8l16.2 16.2M713.8 280.8l-16.2 16.2M697.6 279.6l16.2 16.2M713.8 279.6l-16.2 16.2M697.6 281.2l16.2 16.2M713.8 281.2l-16.2 16.2M697.6 286.3l16.2 16.2M713.8 286.3l-16.2 16.2M697.6 286.1l16.2 16.2M713.8 286.1l-16.2 16.2M697.6 284.9l16.2 16.2M713.8 284.9l-16.2 16.2M697.6 295.5l16.2 16.2M713.8 295.5l-16.2 16.2M697.6 295.4l16.2 16.2M713.8 295.4l-16.2 16.2M697.6 295.4l16.2 16.2M713.8 295.4l-16.2 16.2M697.6 302.1l16.2 16.2M713.8 302.1l-16.2 16.2M697.6 301.0l16.2 16.2M713.8 301.0l-16.2 16.2M697.6 301.7l16.2 16.2M713.8 301.7l-16.2 16.2M697.6 302.0l16.2 16.2M713.8 302.0l-16.2 16.2M697.6 308.5l16.2 16.2M713.8 308.5l-16.2 16.2M697.6 306.7l16.2 16.2M713.8 306.7l-16.2 16.2M697.6 308.3l16.2 16.2M713.8 308.3l-16.2 16.2M697.6 314.0l16.2 16.2M713.8 314.0l-16.2 16.2M697.6 312.9l16.2 16.2M713.8 312.9l-16.2 16.2M697.6 312.9l16.2 16.2M713.8 312.9l-16.2 16.2M697.6 318.9l16.2 16.2M713.8 318.9l-16.2 16.2M697.6 317.8l16.2 16.2M713.8 317.8l-16.2 16.2M697.6 318.3l16.2 16.2M713.8 318.3l-16.2 16.2M697.6 323.5l16.2 16.2M713.8 323.5l-16.2 16.2M697.6 324.0l16.2 16.2M713.8 324.0l-16.2 16.2M697.6 324.7l16.2 16.2M713.8 324.7l-16.2 16.2M697.6 323.7l16.2 16.2M713.8 323.7l-16.2 16.2M697.6 330.2l16.2 16.2M713.8 330.2l-16.2 16.2M697.6 330.6l16.2 16.2M713.8 330.6l-16.2 16.2M697.6 330.2l16.2 16.2M713.8 330.2l-16.2 16.2M697.6 335.0l16.2 16.2M713.8 335.0l-16.2 16.2M697.6 336.0l16.2 16.2M713.8 336.0l-16.2 16.2M697.6 340.8l16.2 16.2M713.8 340.8l-16.2 16.2M697.6 341.9l16.2 16.2M713.8 341.9l-16.2 16.2M697.6 343.2l16.2 16.2M713.8 343.2l-16.2 16.2M697.6 343.1l16.2 16.2M713.8 343.1l-16.2 16.2M697.6 344.9l16.2 16.2M713.8 344.9l-16.2 16.2M697.6 347.2l16.2 16.2M713.8 347.2l-16.2 16.2M697.6 349.2l16.2 16.2M713.8 349.2l-16.2 16.2M697.6 350.3l16.2 16.2M713.8 350.3l-16.2 16.2M697.6 350.1l16.2 16.2M713.8 350.1l-16.2 16.2M697.6 350.7l16.2 16.2M713.8 350.7l-16.2 16.2M697.6 355.6l16.2 16.2M713.8 355.6l-16.2 16.2M697.6 354.7l16.2 16.2M713.8 354.7l-16.2 16.2M697.6 360.3l16.2 16.2M713.8 360.3l-16.2 16.2M697.6 360.3l16.2 16.2M713.8 360.3l-16.2 16.2M697.6 359.8l16.2 16.2M713.8 359.8l-16.2 16.2M697.6 364.0l16.2 16.2M713.8 364.0l-16.2 16.2M697.6 363.4l16.2 16.2M713.8 363.4l-16.2 16.2M697.6 367.7l16.2 16.2M713.8 367.7l-16.2 16.2M697.6 368.3l16.2 16.2M713.8 368.3l-16.2 16.2M697.6 369.3l16.2 16.2M713.8 369.3l-16.2 16.2M697.6 369.0l16.2 16.2M713.8 369.0l-16.2 16.2M697.6 372.9l16.2 16.2M713.8 372.9l-16.2 16.2M697.6 372.2l16.2 16.2M713.8 372.2l-16.2 16.2M697.6 371.6l16.2 16.2M713.8 371.6l-16.2 16.2M697.6 372.8l16.2 16.2M713.8 372.8l-16.2 16.2M697.6 378.3l16.2 16.2M713.8 378.3l-16.2 16.2M697.6 377.4l16.2 16.2M713.8 377.4l-16.2 16.2M697.6 380.1l16.2 16.2M713.8 380.1l-16.2 16.2M697.6 380.4l16.2 16.2M713.8 380.4l-16.2 16.2M697.6 381.6l16.2 16.2M713.8 381.6l-16.2 16.2M697.6 381.7l16.2 16.2M713.8 381.7l-16.2 16.2M697.6 386.4l16.2 16.2M713.8 386.4l-16.2 16.2M697.6 385.6l16.2 16.2M713.8 385.6l-16.2 16.2M697.6 385.2l16.2 16.2M713.8 385.2l-16.2 16.2M697.6 386.7l16.2 16.2M713.8 386.7l-16.2 16.2M697.6 391.1l16.2 16.2M713.8 391.1l-16.2 16.2M697.6 389.6l16.2 16.2M713.8 389.6l-16.2 16.2M697.6 391.1l16.2 16.2M713.8 391.1l-16.2 16.2M697.6 395.2l16.2 16.2M713.8 395.2l-16.2 16.2M697.6 395.6l16.2 16.2M713.8 395.6l-16.2 16.2M697.6 394.5l16.2 16.2M713.8 394.5l-16.2 16.2M697.6 394.3l16.2 16.2M713.8 394.3l-16.2 16.2M697.6 398.9l16.2 16.2M713.8 398.9l-16.2 16.2M697.6 399.9l16.2 16.2M713.8 399.9l-16.2 16.2M697.6 400.9l16.2 16.2M713.8 400.9l-16.2 16.2M697.6 401.9l16.2 16.2M713.8 401.9l-16.2 16.2M697.6 402.9l16.2 16.2M713.8 402.9l-16.2 16.2M697.6 403.9l16.2 16.2M713.8 403.9l-16.2 16.2M697.6 404.9l16.2 16.2M713.8 404.9l-16.2 16.2M697.6 405.9l16.2 16.2M713.8 405.9l-16.2 16.2M697.6 406.9l16.2 16.2M713.8 406.9l-16.2 16.2M697.6 407.9l16.2 16.2M713.8 407.9l-16.2 16.2M697.6 408.9l16.2 16.2M713.8 408.9l-16.2 16.2M697.6 409.9l16.2 16.2M713.8 409.9l-16.2 16.2M697.6 410.9l16.2 16.2M713.8 410.9l-16.2 16.2M697.6 411.9l16.2 16.2M713.8 411.9l-16.2 16.2M697.6 412.9l16.2 16.2M713.8 412.9l-16.2 16.2M697.6 413.9l16.2 16.2M713.8 413.9l-16.2 16.2M697.6 414.9l16.2 16.2M713.8 414.9l-16.2 16.2M697.6 415.9l16.2 16.2M713.8 415.9l-16.2 16.2M697.6 416.9l16.2 16.2M713.8 416.9l-16.2 16.2M697.6 417.9l16.2 16.2M713.8 417.9l-16.2 16.2M697.6 418.9l16.2 16.2M713.8 418.9l-16.2 16.2M697.6 419.9l16.2 16.2M713.8 419.9l-16.2 16.2M697.6 420.9l16.2 16.2M713.8 420.9l-16.2 16.2M697.6 421.9l16.2 16.2M713.8 421.9l-16.2 16.2M697.6 422.9l16.2 16.2M713.8 422.9l-16.2 16.2M697.6 423.9l16.2 16.2M713.8 423.9l-16.2 16.2M697.6 424.9l16.2 16.2M713.8 424.9l-16.2 16.2M697.6 425.9l16.2 16.2M713.8 425.9l-16.2 16.2M697.6 426.9l16.2 16.2M713.8 426.9l-16.2 16.2M697.6 427.9l16.2 16.2M713.8 427.9l-16.2 16.2M697.6 428.9l16.2 16.2M713.8 428.9l-16.2 16.2M697.6 429.9l16.2 16.2M713.8 429.9l-16.2 16.2M697.6 430.9l16.2 16.2M713.8 430.9l-16.2 16.2M697.6 431.9l16.2 16.2M713.8 431.9l-16.2 16.2M697.6 432.9l16.2 16.2M713.8 432.9l-16.2 16.2M697.6 433.9l16.2 16.2M713.8 433.9l-16.2 16.2M697.6 434.9l16.2 16.2M713.8 434.9l-16.2 16.2M697.6 435.9l16.2 16.2M713.8 435.9l-16.2 16.2M697.6 436.9l16.2 16.2M713.8 436.9l-16.2 16.2M697.6 437.9l16.2 16.2M713.8 437.9l-16.2 16.2M697.6 438.9l16.2 16.2M713.8 438.9l-16.2 16.2M697.6 439.9l16.2 16.2M713.8 439.9l-16.2 16.2M697.6 440.9l16.2 16.2M713.8 440.9l-16.2 16.2M697.6 441.9l16.2 16.2M713.8 441.9l-16.2 16.2M697.6 442.9l16.2 16.2M713.8 442.9l-16.2 16.2M697.6 443.9l16.2 16.2M713.8 443.9l-16.2 16.2M697.6 444.9l16.2 16.2M713.8 444.9l-16.2 16.2M697.6 445.9l16.2 16.2M713.8 445.9l-16.2 16.2M697.6 446.9l16.2 16.2M713.8 446.9l-16.2 16.2M697.6 447.9l16.2 16.2M713.8 447.9l-16.2 16.2M697.6 448.9l16.2 16.2M713.8 448.9l-16.2 16.2M697.6 449.9l16.2 16.2M713.8 449.9l-16.2 16.2M697.6 450.9l16.2 16.2M713.8 450.9l-16.2 16.2M697.6 451.9l16.2 16.2M713.8 451.9l-16.2 16.2M697.6 452.9l16.2 16.2M713.8 452.9l-16.2 16.2M697.6 453.9l16.2 16.2M713.8 453.9l-16.2 16.2M697.6 454.9l16.2 16.2M713.8 454.9l-16.2 16.2M697.6 455.9l16.2 16.2M713.8 455.9l-16.2 16.2M697.6 456.9l16.2 16.2M713.8 456.9l-16.2 16.2M697.6 457.9l16.2 16.2M713.8 457.9l-16.2 16.2M697.6 458.9l16.2 16.2M713.8 458.9l-16.2 16.2M697.6 459.9l16.2 16.2M713.8 459.9l-16.2 16.2M697.6 460.9l16.2 16.2M713.8 460.9l-16.2 16.2M697.6 461.9l16.2 16.2M713.8 461.9l-16.2 16.2M697.6 462.9l16.2 16.2M713.8 462.9l-16.2 16.2M697.6 463.9l16.2 16.2M713.8 463.9l-16.2 16.2M697.6 464.9l16.2 16.2M713.8 464.9l-16.2 16.2M697.6 465.9l16.2 16.2M713.8 465.9l-16.2 16.2M697.6 466.9l16.2 16.2M713.8 466.9l-16.2 16.2M697.6 467.9l16.2 16.2M713.8 467.9l-16.2 16.2M697.6 468.9l16.2 16.2M713.8 468.9l-16.2 16.2M697.6 469.9l16.2 16.2M713.8 469.9l-16.2 16.2M697.6 470.9l16.2 16.2M713.8 470.9l-16.2 16.2M697.6 471.9l16.2 16.2M713.8 471.9l-16.2 16.2M697.6 472.9l16.2 16.2M713.8 472.9l-16.2 16.2M697.6 473.9l16.2 16.2M713.8 473.9l-16.2 16.2M697.6 474.9l16.2 16.2M713.8 474.9l-16.2 16.2M697.6 475.9l16.2 16.2M713.8 475.9l-16.2 16.2M697.6 476.9l16.2 16.2M713.8 476.9l-16.2 16.2M697.6 477.9l16.2 16.2M713.8 477.9l-16.2 16.2M697.6 478.9l16.2 16.2M713.8 478.9l-16.2 16.2M697.6 479.9l16.2 16.2M713.8 479.9l-16.2 16.2M697.6 480.9l16.2 16.2M713.8 480.9l-16.2 16.2M697.6 481.9l16.2 16.2M713.8 481.9l-16.2 16.2M697.6 482.9l16.2 16.2M713.8 482.9l-16.2 16.2M697.6 483.9l16.2 16.2M713.8 483.9l-16.2 16.2M697.6 484.9l16.2 16.2M713.8 484.9l-16.2 16.2M697.6 485.9l16.2 16.2M713.8 485.9l-16.2 16.2M697.6 486.9l16.2 16.2M713.8 486.9l-16.2 16.2M697.6 487.9l16.2 16.2M713.8 487.9l-16.2 16.2M697.6 488.9l16.2 16.2M713.8 488.9l-16.2 16.2M697.6 489.9l16.2 16.2M713.8 489.9l-16.2 16.2M697.6 490.9l16.2 16.2M713.8 490.9l-16.2 16.2M697.6 491.9l16.2 16.2M713.8 491.9l-16.2 16.2M697.6 492.9l16.2 16.2M713.8 492.9l-16.2 16.2M697.6 493.9l16.2 16.2M713.8 493.9l-16.2 16.2M697.6 494.9l16.2 16.2M713.8 494.9l-16.2 16.2M697.6 495.9l16.2 16.2M713.8 495.9l-16.2 16.2M697.6 496.9l16.2 16.2M713.8 496.9l-16.2 16.2M697.6 497.9l16.2 16.2M713.8 497.9l-16.2 16.2M697.6 498.9l16.2 16.2M713.8 498.9l-16.2 16.2M697.6 499.9l16.2 16.2M713.8 499.9l-16.2 16.2M697.6 500.9l16.2 16.2M713.8 500.9l-16.2 16.2M697.6 501.9l16.2 16.2M713.8 501.9l-16.2 16.2M697.6 502.9l16.2 16.2M713.8 502.9l-16.2 16.2M697.6 503.9l16.2 16.2M713.8 503.9l-16.2 16.2M697.6 504.9l16.2 16.2M713.8 504.9l-16.2 16.2M697.6 505.9l16.2 16.2M713.8 505.9l-16.2 16.2M697.6 506.9l16.2 16.2M713.8 506.9l-16.2 16.2M697.6 507.9l16.2 16.2M713.8 507.9l-16.2 16.2M697.6 508.9l16.2 16.2M713.8 508.9l-16.2 16.2M697.6 509.9l16.2 16.2M713.8 509.9l-16.2 16.2M697.6 510.9l16.2 16.2M713.8 510.9l-16.2 16.2M697.6 511.9l16.2 16.2M713.8 511.9l-16.2 16.2M697.6 512.9l16.2 16.2M713.8 512.9l-16.2 16.2M697.6 513.9l16.2 16.2M713.8 513.9l-16.2 16.2M697.6 514.9l16.2 16.2M713.8 514.9l-16.2 16.2M697.6 515.9l16.2 16.2M713.8 515.9l-16.2 16.2M697.6 516.9l16.2 16.2M713.8 516.9l-16.2 16.2M697.6 517.9l16.2 16.2M713.8 517.9l-16.2 16.2M697.6 518.9l16.2 16.2M713.8 518.9l-16.2 16.2M697.6 519.9l16.2 16.2M713.8 519.9l-16.2 16.2M697.6 520.9l16.2 16.2M713.8 520.9l-16.2 16.2M697.6 521.9l16.2 16.2M713.8 521.9l-16.2 16.2M697.6 522.9l16.2 16.2M713.8 522.9l-16.2 16.2M697.6 523.9l16.2 16.2M713.8 523.9l-16.2 16.2M697.6 524.9l16.2 16.2M713.8 524.9l-16.2 16.2M697.6 525.9l16.2 16.2M713.8 525.9l-16.2 16.2M697.6 526.9l16.2 16.2M713.8 526.9l-16.2 16.2M697.6 527.9l16.2 16.2M713.8 527.9l-16.2 16.2M697.6 528.9l16.2 16.2M713.8 528.9l-16.2 16.2M697.6 529.9l16.2 16.2M713.8 529.9l-16.2 16.2M697.6 530.9l16.2 16.2M713.8 530.9l-16.2 16.2M697.6 531.9l16.2 16.2M713.8 531.9l-16.2 16.2M697.6 532.9l16.2 16.2M713.8 532.9l-16.2 16.2M697.6 533.9l16.2 16.2M713.8 533.9l-16.2 16.2M697.6 534.9l16.2 16.2M713.8 534.9l-16.2 16.2M697.6 535.9l16.2 16.2M713.8 535.9l-16.2 16.2M697.6 536.9l16.2 16.2M713.8 536.9l-16.2 16.2M697.6 537.9l16.2 16.2M713.8 537.9l-16.2 16.2M697.6 538.9l16.2 16.2M713.8 538.9l-16.2 16.2M697.6 539.9l16.2 16.2M713.8 539.9l-16.2 16.2M697.6 540.9l16.2 16.2M713.8 540.9l-16.2 16.2M697.6 541.9l16.2 16.2M713.8 541.9l-16.2 16.2M697.6 541.9l16.2 16.2M713.8 541.9l-16.2 16.2M697.6 541.5l16.2 16.2M713.8 541.5l-16.2 16.2M697.6 544.7l16.2 16.2M713.8 544.7l-16.2 16.2M697.6 547.0l16.2 16.2M713.8 547.0l-16.2 16.2M697.6 547.8l16.2 16.2M713.8 547.8l-16.2 16.2M697.6 550.1l16.2 16.2M713.8 550.1l-16.2 16.2M697.6 553.5l16.2 16.2M713.8 553.5l-16.2 16.2M697.6 553.2l16.2 16.2M713.8 553.2l-16.2 16.2M697.6 555.6l16.2 16.2M713.8 555.6l-16.2 16.2M697.6 555.4l16.2 16.2M713.8 555.4l-16.2 16.2M697.6 557.5l16.2 16.2M713.8 557.5l-16.2 16.2M697.6 557.2l16.2 16.2M713.8 557.2l-16.2 16.2M697.6 557.5l16.2 16.2M713.8 557.5l-16.2 16.2M697.6 559.0l16.2 16.2M713.8 559.0l-16.2 16.2M697.6 562.0l16.2 16.2M713.8 562.0l-16.2 16.2M697.6 561.7l16.2 16.2M713.8 561.7l-16.2 16.2M697.6 564.2l16.2 16.2M713.8 564.2l-16.2 16.2M697.6 565.8l16.2 16.2M713.8 565.8l-16.2 16.2M697.6 566.2l16.2 16.2M713.8 566.2l-16.2 16.2M697.6 569.8l16.2 16.2M713.8 569.8l-16.2 16.2M697.6 571.5l16.2 16.2M713.8 571.5l-16.2 16.2M697.6 575.1l16.2 16.2M713.8 575.1l-16.2 16.2M697.6 575.1l16.2 16.2M713.8 575.1l-16.2 16.2M697.6 574.4l16.2 16.2M713.8 574.4l-16.2 16.2M697.6 577.9l16.2 16.2M713.8 577.9l-16.2 16.2M697.6 577.1l16.2 16.2M713.8 577.1l-16.2 16.2M697.6 580.5l16.2 16.2M713.8 580.5l-16.2 16.2M697.6 580.2l16.2 16.2M713.8 580.2l-16.2 16.2M697.6 582.6l16.2 16.2M713.8 582.6l-16.2 16.2M697.6 582.3l16.2 16.2M713.8 582.3l-16.2 16.2M697.6 584.6l16.2 16.2M713.8 584.6l-16.2 16.2M697.6 584.7l16.2 16.2M713.8 584.7l-16.2 16.2M697.6 587.2l16.2 16.2M713.8 587.2l-16.2 16.2M697.6 587.0l16.2 16.2M713.8 587.0l-16.2 16.2M697.6 588.9l16.2 16.2M713.8 588.9l-16.2 16.2M697.6 592.4l16.2 16.2M713.8 592.4l-16.2 16.2M697.6 594.3l16.2 16.2M713.8 594.3l-16.2 16.2M697.6 597.9l16.2 16.2M713.8 597.9l-16.2 16.2M697.6 599.0l16.2 16.2M713.8 599.0l-16.2 16.2M697.6 622.9l16.2 16.2M713.8 622.9l-16.2 16.2M697.6 626.9l16.2 16.2M713.8 626.9l-16.2 16.2M697.6 630.9l16.2 16.2M713.8 630.9l-16.2 16.2M697.6 634.9l16.2 16.2M713.8 634.9l-16.2 16.2M697.6 638.9l16.2 16.2M713.8 638.9l-16.2 16.2M697.6 642.9l16.2 16.2M713.8 642.9l-16.2 16.2M697.6 646.9l16.2 16.2M713.8 646.9l-16.2 16.2M697.6 287.9l16.2 16.2M713.8 287.9l-16.2 16.2M697.6 294.9l16.2 16.2M713.8 294.9l-16.2 16.2M697.6 603.9l16.2 16.2M713.8 603.9l-16.2 16.2M697.6 606.9l16.2 16.2M713.8 606.9l-16.2 16.2M697.6 622.4l16.2 16.2M713.8 622.4l-16.2 16.2"/><path stroke="#ae8000" d="M771.5 39.2l16.2 16.2M787.7 39.2l-16.2 16.2M771.5 71.2l16.2 16.2M787.7 71.2l-16.2 16.2M771.5 90.6l16.2 16.2M787.7 90.6l-16.2 16.2M771.5 100.0l16.2 16.2M787.7 100.0l-16.2 16.2M771.5 138.1l16.2 16.2M787.7 138.1l-16.2 16.2M771.5 144.0l16.2 16.2M787.7 144.0l-16.2 16.2M771.5 147.1l16.2 16.2M787.7 147.1l-16.2 16.2M771.5 171.2l16.2 16.2M787.7 171.2l-16.2 16.2M771.5 172.4l16.2 16.2M787.7 172.4l-16.2 16.2M771.5 179.0l16.2 16.2M787.7 179.0l-16.2 16.2M771.5 186.4l16.2 16.2M787.7 186.4l-16.2 16.2"/><path stroke="#bc9826" d="M771.5 192.3l16.2 16.2M787.7 192.3l-16.2 16.2M771.5 198.5l16.2 16.2M787.7 198.5l-16.2 16.2M771.5 198.0l16.2 16.2M787.7 198.0l-16.2 16.2M771.5 217.7l16.2 16.2M787.7 217.7l-16.2 16.2M771.5 223.6l16.2 16.2M787.7 223.6l-16.2 16.2M771.5 224.3l16.2 16.2M787.7 224.3l-16.2 16.2M771.5 224.5l16.2 16.2M787.7 224.5l-16.2 16.2M771.5 230.8l16.2 16.2M787.7 230.8l-16.2 16.2M771.5 231.9l16.2 16.2M787.7 231.9l-16.2 16.2M771.5 238.5l16.2 16.2M787.7 238.5l-16.2 16.2M771.5 239.1l16.2 16.2M787.7 239.1l-16.2 16.2M771.5 238.8l16.2 16.2M787.7 238.8l-16.2 16.2M771.5 246.1l16.2 16.2M787.7 246.1l-16.2 16.2M771.5 246.7l16.2 16.2M787.7 246.7l-16.2 16.2M771.5 254.7l16.2 16.2M787.7 254.7l-16.2 16.2M771.5 260.9l16.2 16.2M787.7 260.9l-16.2 16.2M771.5 260.1l16.2 16.2M787.7 260.1l-16.2 16.2M771.5 261.4l16.2 16.2M787.7 261.4l-16.2 16.2M771.5 267.2l16.2 16.2M787.7 267.2l-16.2 16.2M771.5 272.7l16.2 16.2M787.7 272.7l-16.2 16.2M771.5 271.4l16.2 16.2M787.7 271.4l-16.2 16.2M771.5 273.0l16.2 16.2M787.7 273.0l-16.2 16.2M771.5 277.3l16.2 16.2M787.7 277.3l-16.2 16.2M771.5 277.1l16.2 16.2M787.7 277.1l-16.2 16.2M771.5 276.5l16.2 16.2M787.7 276.5l-16.2 16.2M771.5 280.6l16.2 16.2M787.7 280.6l-16.2 16.2M771.5 282.0l16.2 16.2M787.7 282.0l-16.2 16.2M771.5 280.7l16.2 16.2M787.7 280.7l-16.2 16.2M771.5 286.0l16.2 16.2M787.7 286.0l-16.2 16.2M771.5 285.8l16.2 16.2M787.7 285.8l-16.2 16.2M771.5 286.0l16.2 16.2M787.7 286.0l-16.2 16.2M771.5 287.2l16.2 16.2M787.7 287.2l-16.2 16.2M771.5 289.4l16.2 16.2M787.7 289.4l-16.2 16.2M771.5 291.0l16.2 16.2M787.7 291.0l-16.2 16.2M771.5 289.4l16.2 16.2M787.7 289.4l-16.2 16.2M771.5 289.7l16.2 16.2M787.7 289.7l-16.2 16.2M771.5 296.9l16.2 16.2M787.7 296.9l-16.2 16.2M771.5 296.8l16.2 16.2M787.7 296.8l-16.2 16.2M771.5 295.2l16.2 16.2M787.7 295.2l-16.2 16.2M771.5 297.2l16.2 16.2M787.7 297.2l-16.2 16.2M771.5 300.3l16.2 16.2M787.7 300.3l-16.2 16.2M771.5 301.5l16.2 16.2M787.7 301.5l-16.2 16.2M771.5 305.4l16.2 16.2M787.7 305.4l-16.2 16.2M771.5 307.0l16.2 16.2M787.7 307.0l-16.2 16.2M771.5 311.0l16.2 16.2M787.7 311.0l-16.2 16.2M771.5 311.8l16.2 16.2M787.7 311.8l-16.2 16.2M771.5 310.9l16.2 16.2M787.7 310.9l-16.2 16.2M771.5 315.8l16.2 16.2M787.7 315.8l-16.2 16.2M771.5 316.8l16.2 16.2M787.7 316.8l-16.2 16.2M771.5 316.0l16.2 16.2M787.7 316.0l-16.2 16.2M771.5 316.2l16.2 16.2M787.7 316.2l-16.2 16.2M771.5 320.3l16.2 16.2M787.7 320.3l-16.2 16.2M771.5 320.0l16.2 16.2M787.7 320.0l-16.2 16.2M771.5 319.9l16.2 16.2M787.7 319.9l-16.2 16.2M771.5 320.3l16.2 16.2M787.7 320.3l-16.2 16.2M771.5 326.5l16.2 16.2M787.7 326.5l-16.2 16.2M771.5 325.5l16.2 16.2M787.7 325.5l-16.2 16.2M771.5 326.2l16.2 16.2M787.7 326.2l-16.2 16.2M771.5 329.4l16.2 16.2M787.7 329.4l-16.2 16.2M771.5 330.9l16.2 16.2M787.7 330.9l-16.2 16.2M771.5 330.9l16.2 16.2M787.7 330.9l-16.2 16.2M771.5 333.6l16.2 16.2M787.7 333.6l-16.2 16.2M771.5 333.7l16.2 16.2M787.7 333.7l-16.2 16.2M771.5 333.8l16.2 16.2M787.7 333.8l-16.2 16.2M771.5 340.3l16.2 16.2M787.7 340.3l-16.2 16.2M771.5 339.3l16.2 16.2M787.7 339.3l-16.2 16.2M771.5 339.5l16.2 16.2M787.7 339.5l-16.2 16.2M771.5 344.4l16.2 16.2M787.7 344.4l-16.2 16.2M771.5 344.2l16.2 16.2M787.7 344.2l-16.2 16.2M771.5 347.7l16.2 16.2M787.7 347.7l-16.2 16.2M771.5 348.7l16.2 16.2M787.7 348.7l-16.2 16.2M771.5 353.3l16.2 16.2M787.7 353.3l-16.2 16.2M771.5 353.2l16.2 16.2M787.7 353.2l-16.2 16.2M771.5 356.9l16.2 16.2M787.7 356.9l-16.2 16.2M771.5 358.2l16.2 16.2M787.7 358.2l-16.2 16.2M771.5 361.8l16.2 16.2M787.7 361.8l-16.2 16.2M771.5 363.7l16.2 16.2M787.7 363.7l-16.2 16.2M771.5 361.4l16.2 16.2M787.7 361.4l-16.2 16.2M771.5 363.0l16.2 16.2M787.7 363.0l-16.2 16.2M771.5 367.9l16.2 16.2M787.7 367.9l-16.2 16.2M771.5 368.9l16.2 16.2M787.7 368.9l-16.2 16.2M771.5 369.9l16.2 16.2M787.7 369.9l-16.2 16.2M771.5 370.9l16.2 16.2M787.7 370.9l-16.2 16.2M771.5 371.9l16.2 16.2M787.7 371.9l-16.2 16.2M771.5 372.9l16.2 16.2M787.7 372.9l-16.2 16.2M771.5 373.9l16.2 16.2M787.7 373.9l-16.2 16.2M771.5 374.9l16.2 16.2M787.7 374.9l-16.2 16.2M771.5 375.9l16.2 16.2M787.7 375.9l-16.2 16.2M771.5 376.9l16.2 16.2M787.7 376.9l-16.2 16.2M771.5 377.9l16.2 16.2M787.7 377.9l-16.2 16.2M771.5 378.9l16.2 16.2M787.7 378.9l-16.2 16.2M771.5 379.9l16.2 16.2M787.7 379.9l-16.2 16.2M771.5 380.9l16.2 16.2M787.7 380.9l-16.2 16.2M771.5 381.9l16.2 16.2M787.7 381.9l-16.2 16.2M771.5 382.9l16.2 16.2M787.7 382.9l-16.2 16.2M771.5 383.9l16.2 16.2M787.7 383.9l-16.2 16.2M771.5 384.9l16.2 16.2M787.7 384.9l-16.2 16.2M771.5 385.9l16.2 16.2M787.7 385.9l-16.2 16.2M771.5 386.9l16.2 16.2M787.7 386.9l-16.2 16.2M771.5 387.9l16.2 16.2M787.7 387.9l-16.2 16.2M771.5 388.9l16.2 16.2M787.7 388.9l-16.2 16.2M771.5 389.9l16.2 16.2M787.7 389.9l-16.2 16.2M771.5 390.9l16.2 16.2M787.7 390.9l-16.2 16.2M771.5 391.9l16.2 16.2M787.7 391.9l-16.2 16.2M771.5 392.9l16.2 16.2M787.7 392.9l-16.2 16.2M771.5 393.9l16.2 16.2M787.7 393.9l-16.2 16.2M771.5 394.9l16.2 16.2M787.7 394.9l-16.2 16.2M771.5 395.9l16.2 16.2M787.7 395.9l-16.2 16.2M771.5 396.9l16.2 16.2M787.7 396.9l-16.2 16.2M771.5 397.9l16.2 16.2M787.7 397.9l-16.2 16.2M771.5 398.9l16.2 16.2M787.7 398.9l-16.2 16.2M771.5 399.9l16.2 16.2M787.7 399.9l-16.2 16.2M771.5 400.9l16.2 16.2M787.7 400.9l-16.2 16.2M771.5 401.9l16.2 16.2M787.7 401.9l-16.2 16.2M771.5 402.9l16.2 16.2M787.7 402.9l-16.2 16.2M771.5 403.9l16.2 16.2M787.7 403.9l-16.2 16.2M771.5 404.9l16.2 16.2M787.7 404.9l-16.2 16.2M771.5 405.9l16.2 16.2M787.7 405.9l-16.2 16.2M771.5 406.9l16.2 16.2M787.7 406.9l-16.2 16.2M771.5 407.9l16.2 16.2M787.7 407.9l-16.2 16.2M771.5 408.9l16.2 16.2M787.7 408.9l-16.2 16.2M771.5 409.9l16.2 16.2M787.7 409.9l-16.2 16.2M771.5 410.9l16.2 16.2M787.7 410.9l-16.2 16.2M771.5 411.9l16.2 16.2M787.7 411.9l-16.2 16.2M771.5 412.9l16.2 16.2M787.7 412.9l-16.2 16.2M771.5 413.9l16.2 16.2M787.7 413.9l-16.2 16.2M771.5 414.9l16.2 16.2M787.7 414.9l-16.2 16.2M771.5 415.9l16.2 16.2M787.7 415.9l-16.2 16.2M771.5 416.9l16.2 16.2M787.7 416.9l-16.2 16.2M771.5 417.9l16.2 16.2M787.7 417.9l-16.2 16.2M771.5 418.9l16.2 16.2M787.7 418.9l-16.2 16.2M771.5 419.9l16.2 16.2M787.7 419.9l-16.2 16.2M771.5 420.9l16.2 16.2M787.7 420.9l-16.2 16.2M771.5 421.9l16.2 16.2M787.7 421.9l-16.2 16.2M771.5 422.9l16.2 16.2M787.7 422.9l-16.2 16.2M771.5 423.9l16.2 16.2M787.7 423.9l-16.2 16.2M771.5 424.9l16.2 16.2M787.7 424.9l-16.2 16.2M771.5 425.9l16.2 16.2M787.7 425.9l-16.2 16.2M771.5 426.9l16.2 16.2M787.7 426.9l-16.2 16.2M771.5 427.9l16.2 16.2M787.7 427.9l-16.2 16.2M771.5 428.9l16.2 16.2M787.7 428.9l-16.2 16.2M771.5 429.9l16.2 16.2M787.7 429.9l-16.2 16.2M771.5 430.9l16.2 16.2M787.7 430.9l-16.2 16.2M771.5 431.9l16.2 16.2M787.7 431.9l-16.2 16.2M771.5 432.9l16.2 16.2M787.7 432.9l-16.2 16.2M771.5 433.9l16.2 16.2M787.7 433.9l-16.2 16.2M771.5 434.9l16.2 16.2M787.7 434.9l-16.2 16.2M771.5 435.9l16.2 16.2M787.7 435.9l-16.2 16.2M771.5 436.9l16.2 16.2M787.7 436.9l-16.2 16.2M771.5 437.9l16.2 16.2M787.7 437.9l-16.2 16.2M771.5 438.9l16.2 16.2M787.7 438.9l-16.2 16.2M771.5 439.9l16.2 16.2M787.7 439.9l-16.2 16.2M771.5 440.9l16.2 16.2M787.7 440.9l-16.2 16.2M771.5 441.9l16.2 16.2M787.7 441.9l-16.2 16.2M771.5 442.9l16.2 16.2M787.7 442.9l-16.2 16.2M771.5 443.9l16.2 16.2M787.7 443.9l-16.2 16.2M771.5 444.9l16.2 16.2M787.7 444.9l-16.2 16.2M771.5 445.9l16.2 16.2M787.7 445.9l-16.2 16.2M771.5 446.9l16.2 16.2M787.7 446.9l-16.2 16.2M771.5 447.9l16.2 16.2M787.7 447.9l-16.2 16.2M771.5 448.9l16.2 16.2M787.7 448.9l-16.2 16.2M771.5 449.9l16.2 16.2M787.7 449.9l-16.2 16.2M771.5 450.9l16.2 16.2M787.7 450.9l-16.2 16.2M771.5 451.9l16.2 16.2M787.7 451.9l-16.2 16.2M771.5 452.9l16.2 16.2M787.7 452.9l-16.2 16.2M771.5 453.9l16.2 16.2M787.7 453.9l-16.2 16.2M771.5 454.9l16.2 16.2M787.7 454.9l-16.2 16.2M771.5 455.9l16.2 16.2M787.7 455.9l-16.2 16.2M771.5 456.9l16.2 16.2M787.7 456.9l-16.2 16.2M771.5 457.9l16.2 16.2M787.7 457.9l-16.2 16.2M771.5 458.9l16.2 16.2M787.7 458.9l-16.2 16.2M771.5 459.9l16.2 16.2M787.7 459.9l-16.2 16.2M771.5 460.9l16.2 16.2M787.7 460.9l-16.2 16.2M771.5 461.9l16.2 16.2M787.7 461.9l-16.2 16.2M771.5 462.9l16.2 16.2M787.7 462.9l-16.2 16.2M771.5 463.9l16.2 16.2M787.7 463.9l-16.2 16.2M771.5 464.9l16.2 16.2M787.7 464.9l-16.2 16.2M771.5 465.9l16.2 16.2M787.7 465.9l-16.2 16.2M771.5 466.9l16.2 16.2M787.7 466.9l-16.2 16.2M771.5 467.9l16.2 16.2M787.7 467.9l-16.2 16.2M771.5 468.9l16.2 16.2M787.7 468.9l-16.2 16.2M771.5 469.9l16.2 16.2M787.7 469.9l-16.2 16.2M771.5 470.9l16.2 16.2M787.7 470.9l-16.2 16.2M771.5 471.9l16.2 16.2M787.7 471.9l-16.2 16.2M771.5 472.9l16.2 16.2M787.7 472.9l-16.2 16.2M771.5 473.9l16.2 16.2M787.7 473.9l-16.2 16.2M771.5 474.9l16.2 16.2M787.7 474.9l-16.2 16.2M771.5 475.9l16.2 16.2M787.7 475.9l-16.2 16.2M771.5 476.9l16.2 16.2M787.7 476.9l-16.2 16.2M771.5 477.9l16.2 16.2M787.7 477.9l-16.2 16.2M771.5 478.9l16.2 16.2M787.7 478.9l-16.2 16.2M771.5 479.9l16.2 16.2M787.7 479.9l-16.2 16.2M771.5 480.9l16.2 16.2M787.7 480.9l-16.2 16.2M771.5 481.9l16.2 16.2M787.7 481.9l-16.2 16.2M771.5 482.9l16.2 16.2M787.7 482.9l-16.2 16.2M771.5 483.9l16.2 16.2M787.7 483.9l-16.2 16.2M771.5 484.9l16.2 16.2M787.7 484.9l-16.2 16.2M771.5 485.9l16.2 16.2M787.7 485.9l-16.2 16.2M771.5 486.9l16.2 16.2M787.7 486.9l-16.2 16.2M771.5 487.9l16.2 16.2M787.7 487.9l-16.2 16.2M771.5 488.9l16.2 16.2M787.7 488.9l-16.2 16.2M771.5 489.9l16.2 16.2M787.7 489.9l-16.2 16.2M771.5 490.9l16.2 16.2M787.7 490.9l-16.2 16.2M771.5 491.9l16.2 16.2M787.7 491.9l-16.2 16.2M771.5 492.9l16.2 16.2M787.7 492.9l-16.2 16.2M771.5 493.9l16.2 16.2M787.7 493.9l-16.2 16.2M771.5 494.9l16.2 16.2M787.7 494.9l-16.2 16.2M771.5 495.9l16.2 16.2M787.7 495.9l-16.2 16.2M771.5 496.9l16.2 16.2M787.7 496.9l-16.2 16.2M771.5 497.9l16.2 16.2M787.7 497.9l-16.2 16.2M771.5 498.9l16.2 16.2M787.7 498.9l-16.2 16.2M771.5 499.9l16.2 16.2M787.7 499.9l-16.2 16.2M771.5 500.9l16.2 16.2M787.7 500.9l-16.2 16.2M771.5 501.9l16.2 16.2M787.7 501.9l-16.2 16.2M771.5 502.9l16.2 16.2M787.7 502.9l-16.2 16.2M771.5 503.9l16.2 16.2M787.7 503.9l-16.2 16.2M771.5 504.9l16.2 16.2M787.7 504.9l-16.2 16.2M771.5 505.9l16.2 16.2M787.7 505.9l-16.2 16.2M771.5 506.9l16.2 16.2M787.7 506.9l-16.2 16.2M771.5 507.9l16.2 16.2M787.7 507.9l-16.2 16.2M771.5 508.9l16.2 16.2M787.7 508.9l-16.2 16.2M771.5 509.9l16.2 16.2M787.7 509.9l-16.2 16.2M771.5 510.9l16.2 16.2M787.7 510.9l-16.2 16.2M771.5 511.9l16.2 16.2M787.7 511.9l-16.2 16.2M771.5 512.9l16.2 16.2M787.7 512.9l-16.2 16.2M771.5 513.9l16.2 16.2M787.7 513.9l-16.2 16.2M771.5 514.9l16.2 16.2M787.7 514.9l-16.2 16.2M771.5 515.9l16.2 16.2M787.7 515.9l-16.2 16.2M771.5 516.9l16.2 16.2M787.7 516.9l-16.2 16.2M771.5 517.9l16.2 16.2M787.7 517.9l-16.2 16.2M771.5 518.9l16.2 16.2M787.7 518.9l-16.2 16.2M771.5 519.9l16.2 16.2M787.7 519.9l-16.2 16.2M771.5 520.9l16.2 16.2M787.7 520.9l-16.2 16.2M771.5 521.9l16.2 16.2M787.7 521.9l-16.2 16.2M771.5 522.9l16.2 16.2M787.7 522.9l-16.2 16.2M771.5 523.9l16.2 16.2M787.7 523.9l-16.2 16.2M771.5 524.9l16.2 16.2M787.7 524.9l-16.2 16.2M771.5 525.9l16.2 16.2M787.7 525.9l-16.2 16.2M771.5 526.9l16.2 16.2M787.7 526.9l-16.2 16.2M771.5 527.1l16.2 16.2M787.7 527.1l-16.2 16.2M771.5 531.3l16.2 16.2M787.7 531.3l-16.2 16.2M771.5 530.4l16.2 16.2M787.7 530.4l-16.2 16.2M771.5 534.7l16.2 16.2M787.7 534.7l-16.2 16.2M771.5 538.6l16.2 16.2M787.7 538.6l-16.2 16.2M771.5 537.5l16.2 16.2M787.7 537.5l-16.2 16.2M771.5 541.4l16.2 16.2M787.7 541.4l-16.2 16.2M771.5 543.7l16.2 16.2M787.7 543.7l-16.2 16.2M771.5 543.8l16.2 16.2M787.7 543.8l-16.2 16.2M771.5 547.9l16.2 16.2M787.7 547.9l-16.2 16.2M771.5 547.6l16.2 16.2M787.7 547.6l-16.2 16.2M771.5 549.1l16.2 16.2M787.7 549.1l-16.2 16.2M771.5 553.2l16.2 16.2M787.7 553.2l-16.2 16.2M771.5 552.8l16.2 16.2M787.7 552.8l-16.2 16.2M771.5 554.8l16.2 16.2M787.7 554.8l-16.2 16.2M771.5 555.5l16.2 16.2M787.7 555.5l-16.2 16.2M771.5 555.9l16.2 16.2M787.7 555.9l-16.2 16.2M771.5 629.3l16.2 16.2M787.7 629.3l-16.2 16.2M771.5 632.8l16.2 16.2M787.7 632.8l-16.2 16.2M771.5 636.3l16.2 16.2M787.7 636.3l-16.2 16.2M771.5 639.8l16.2 16.2M787.7 639.8l-16.2 16.2M771.5 643.3l16.2 16.2M787.7 643.3l-16.2 16.2M771.5 646.8l16.2 16.2M787.7 646.8l-16.2 16.2M771.5 559.4l16.2 16.2M787.7 559.4l-16.2 16.2M771.5 575.9l16.2 16.2M787.7 575.9l-16.2 16.2M771.5 581.9l16.2 16.2M787.7 581.9l-16.2 16.2M771.5 586.9l16.2 16.2M787.7 586.9l-16.2 16.2M771.5 591.9l16.2 16.2M787.7 591.9l-16.2 16.2M771.5 597.9l16.2 16.2M787.7 597.9l-16.2 16.2M771.5 601.9l16.2 16.2M787.7 601.9l-16.2 16.2M771.5 614.6l16.2 16.2M787.7 614.6l-16.2 16.2"/><path stroke="#46b6b8" d="M894.7 19.1l16.2 16.2M910.9 19.1l-16.2 16.2M894.7 27.5l16.2 16.2M910.9 27.5l-16.2 16.2M894.7 36.5l16.2 16.2M910.9 36.5l-16.2 16.2M894.7 69.0l16.2 16.2M910.9 69.0l-16.2 16.2M894.7 88.9l16.2 16.2M910.9 88.9l-16.2 16.2M894.7 98.3l16.2 16.2M910.9 98.3l-16.2 16.2M894.7 116.2l16.2 16.2M910.9 116.2l-16.2 16.2M894.7 146.6l16.2 16.2M910.9 146.6l-16.2 16.2"/><path stroke="#74c8c9" d="M894.7 141.7l16.2 16.2M910.9 141.7l-16.2 16.2M894.7 141.0l16.2 16.2M910.9 141.0l-16.2 16.2M894.7 148.3l16.2 16.2M910.9 148.3l-16.2 16.2M894.7 148.7l16.2 16.2M910.9 148.7l-16.2 16.2M894.7 155.5l16.2 16.2M910.9 155.5l-16.2 16.2M894.7 162.6l16.2 16.2M910.9 162.6l-16.2 16.2M894.7 162.7l16.2 16.2M910.9 162.7l-16.2 16.2M894.7 170.3l16.2 16.2M910.9 170.3l-16.2 16.2M894.7 179.3l16.2 16.2M910.9 179.3l-16.2 16.2M894.7 187.1l16.2 16.2M910.9 187.1l-16.2 16.2M894.7 193.7l16.2 16.2M910.9 193.7l-16.2 16.2M894.7 193.9l16.2 16.2M910.9 193.9l-16.2 16.2M894.7 199.7l16.2 16.2M910.9 199.7l-16.2 16.2M894.7 199.5l16.2 16.2M910.9 199.5l-16.2 16.2M894.7 201.0l16.2 16.2M910.9 201.0l-16.2 16.2M894.7 208.0l16.2 16.2M910.9 208.0l-16.2 16.2M894.7 213.3l16.2 16.2M910.9 213.3l-16.2 16.2M894.7 214.7l16.2 16.2M910.9 214.7l-16.2 16.2M894.7 221.0l16.2 16.2M910.9 221.0l-16.2 16.2M894.7 221.9l16.2 16.2M910.9 221.9l-16.2 16.2M894.7 227.9l16.2 16.2M910.9 227.9l-16.2 16.2M894.7 228.6l16.2 16.2M910.9 228.6l-16.2 16.2M894.7 228.9l16.2 16.2M910.9 228.9l-16.2 16.2M894.7 235.2l16.2 16.2M910.9 235.2l-16.2 16.2M894.7 241.1l16.2 16.2M910.9 241.1l-16.2 16.2M894.7 241.2l16.2 16.2M910.9 241.2l-16.2 16.2M894.7 241.4l16.2 16.2M910.9 241.4l-16.2 16.2M894.7 242.6l16.2 16.2M910.9 242.6l-16.2 16.2M894.7 241.6l16.2 16.2M910.9 241.6l-16.2 16.2M894.7 242.6l16.2 16.2M910.9 242.6l-16.2 16.2M894.7 246.6l16.2 16.2M910.9 246.6l-16.2 16.2M894.7 246.8l16.2 16.2M910.9 246.8l-16.2 16.2M894.7 246.3l16.2 16.2M910.9 246.3l-16.2 16.2M894.7 251.5l16.2 16.2M910.9 251.5l-16.2 16.2M894.7 252.2l16.2 16.2M910.9 252.2l-16.2 16.2M894.7 251.7l16.2 16.2M910.9 251.7l-16.2 16.2M894.7 251.6l16.2 16.2M910.9 251.6l-16.2 16.2M894.7 255.9l16.2 16.2M910.9 255.9l-16.2 16.2M894.7 255.3l16.2 16.2M910.9 255.3l-16.2 16.2M894.7 255.2l16.2 16.2M910.9 255.2l-16.2 16.2M894.7 260.6l16.2 16.2M910.9 260.6l-16.2 16.2M894.7 259.6l16.2 16.2M910.9 259.6l-16.2 16.2M894.7 259.0l16.2 16.2M910.9 259.0l-16.2 16.2M894.7 264.3l16.2 16.2M910.9 264.3l-16.2 16.2M894.7 264.6l16.2 16.2M910.9 264.6l-16.2 16.2M894.7 266.8l16.2 16.2M910.9 266.8l-16.2 16.2M894.7 266.4l16.2 16.2M910.9 266.4l-16.2 16.2M894.7 271.6l16.2 16.2M910.9 271.6l-16.2 16.2M894.7 270.8l16.2 16.2M910.9 270.8l-16.2 16.2M894.7 269.8l16.2 16.2M910.9 269.8l-16.2 16.2M894.7 274.6l16.2 16.2M910.9 274.6l-16.2 16.2M894.7 275.0l16.2 16.2M910.9 275.0l-16.2 16.2M894.7 274.5l16.2 16.2M910.9 274.5l-16.2 16.2M894.7 281.1l16.2 16.2M910.9 281.1l-16.2 16.2M894.7 279.5l16.2 16.2M910.9 279.5l-16.2 16.2M894.7 285.9l16.2 16.2M910.9 285.9l-16.2 16.2M894.7 284.7l16.2 16.2M910.9 284.7l-16.2 16.2M894.7 291.8l16.2 16.2M910.9 291.8l-16.2 16.2M894.7 290.0l16.2 16.2M910.9 290.0l-16.2 16.2M894.7 290.5l16.2 16.2M910.9 290.5l-16.2 16.2M894.7 296.9l16.2 16.2M910.9 296.9l-16.2 16.2M894.7 295.8l16.2 16.2M910.9 295.8l-16.2 16.2M894.7 295.4l16.2 16.2M910.9 295.4l-16.2 16.2M894.7 301.9l16.2 16.2M910.9 301.9l-16.2 16.2M894.7 303.1l16.2 16.2M910.9 303.1l-16.2 16.2M894.7 306.0l16.2 16.2M910.9 306.0l-16.2 16.2M894.7 307.9l16.2 16.2M910.9 307.9l-16.2 16.2M894.7 313.5l16.2 16.2M910.9 313.5l-16.2 16.2M894.7 311.1l16.2 16.2M910.9 311.1l-16.2 16.2M894.7 317.9l16.2 16.2M910.9 317.9l-16.2 16.2M894.7 317.0l16.2 16.2M910.9 317.0l-16.2 16.2M894.7 317.3l16.2 16.2M910.9 317.3l-16.2 16.2M894.7 321.4l16.2 16.2M910.9 321.4l-16.2 16.2M894.7 322.0l16.2 16.2M910.9 322.0l-16.2 16.2M894.7 327.0l16.2 16.2M910.9 327.0l-16.2 16.2M894.7 328.1l16.2 16.2M910.9 328.1l-16.2 16.2M894.7 333.7l16.2 16.2M910.9 333.7l-16.2 16.2M894.7 333.7l16.2 16.2M910.9 333.7l-16.2 16.2M894.7 333.1l16.2 16.2M910.9 333.1l-16.2 16.2M894.7 332.6l16.2 16.2M910.9 332.6l-16.2 16.2M894.7 337.3l16.2 16.2M910.9 337.3l-16.2 16.2M894.7 336.1l16.2 16.2M910.9 336.1l-16.2 16.2M894.7 342.4l16.2 16.2M910.9 342.4l-16.2 16.2M894.7 341.2l16.2 16.2M910.9 341.2l-16.2 16.2M894.7 347.4l16.2 16.2M910.9 347.4l-16.2 16.2M894.7 347.3l16.2 16.2M910.9 347.3l-16.2 16.2M894.7 347.5l16.2 16.2M910.9 347.5l-16.2 16.2M894.7 351.5l16.2 16.2M910.9 351.5l-16.2 16.2M894.7 350.5l16.2 16.2M910.9 350.5l-16.2 16.2M894.7 357.1l16.2 16.2M910.9 357.1l-16.2 16.2M894.7 357.6l16.2 16.2M910.9 357.6l-16.2 16.2M894.7 355.6l16.2 16.2M910.9 355.6l-16.2 16.2M894.7 357.3l16.2 16.2M910.9 357.3l-16.2 16.2M894.7 363.9l16.2 16.2M910.9 363.9l-16.2 16.2M894.7 364.9l16.2 16.2M910.9 364.9l-16.2 16.2M894.7 365.9l16.2 16.2M910.9 365.9l-16.2 16.2M894.7 366.9l16.2 16.2M910.9 366.9l-16.2 16.2M894.7 367.9l16.2 16.2M910.9 367.9l-16.2 16.2M894.7 368.9l16.2 16.2M910.9 368.9l-16.2 16.2M894.7 369.9l16.2 16.2M910.9 369.9l-16.2 16.2M894.7 370.9l16.2 16.2M910.9 370.9l-16.2 16.2M894.7 371.9l16.2 16.2M910.9 371.9l-16.2 16.2M894.7 372.9l16.2 16.2M910.9 372.9l-16.2 16.2M894.7 373.9l16.2 16.2M910.9 373.9l-16.2 16.2M894.7 374.9l16.2 16.2M910.9 374.9l-16.2 16.2M894.7 375.9l16.2 16.2M910.9 375.9l-16.2 16.2M894.7 376.9l16.2 16.2M910.9 376.9l-16.2 16.2M894.7 377.9l16.2 16.2M910.9 377.9l-16.2 16.2M894.7 378.9l16.2 16.2M910.9 378.9l-16.2 16.2M894.7 379.9l16.2 16.2M910.9 379.9l-16.2 16.2M894.7 380.9l16.2 16.2M910.9 380.9l-16.2 16.2M894.7 381.9l16.2 16.2M910.9 381.9l-16.2 16.2M894.7 382.9l16.2 16.2M910.9 382.9l-16.2 16.2M894.7 383.9l16.2 16.2M910.9 383.9l-16.2 16.2M894.7 384.9l16.2 16.2M910.9 384.9l-16.2 16.2M894.7 385.9l16.2 16.2M910.9 385.9l-16.2 16.2M894.7 386.9l16.2 16.2M910.9 386.9l-16.2 16.2M894.7 387.9l16.2 16.2M910.9 387.9l-16.2 16.2M894.7 388.9l16.2 16.2M910.9 388.9l-16.2 16.2M894.7 389.9l16.2 16.2M910.9 389.9l-16.2 16.2M894.7 390.9l16.2 16.2M910.9 390.9l-16.2 16.2M894.7 391.9l16.2 16.2M910.9 391.9l-16.2 16.2M894.7 392.9l16.2 16.2M910.9 392.9l-16.2 16.2M894.7 393.9l16.2 16.2M910.9 393.9l-16.2 16.2M894.7 394.9l16.2 16.2M910.9 394.9l-16.2 16.2M894.7 395.9l16.2 16.2M910.9 395.9l-16.2 16.2M894.7 396.9l16.2 16.2M910.9 396.9l-16.2 16.2M894.7 397.9l16.2 16.2M910.9 397.9l-16.2 16.2M894.7 398.9l16.2 16.2M910.9 398.9l-16.2 16.2M894.7 399.9l16.2 16.2M910.9 399.9l-16.2 16.2M894.7 400.9l16.2 16.2M910.9 400.9l-16.2 16.2M894.7 401.9l16.2 16.2M910.9 401.9l-16.2 16.2M894.7 402.9l16.2 16.2M910.9 402.9l-16.2 16.2M894.7 403.9l16.2 16.2M910.9 403.9l-16.2 16.2M894.7 404.9l16.2 16.2M910.9 404.9l-16.2 16.2M894.7 405.9l16.2 16.2M910.9 405.9l-16.2 16.2M894.7 406.9l16.2 16.2M910.9 406.9l-16.2 16.2M894.7 407.9l16.2 16.2M910.9 407.9l-16.2 16.2M894.7 408.9l16.2 16.2M910.9 408.9l-16.2 16.2M894.7 409.9l16.2 16.2M910.9 409.9l-16.2 16.2M894.7 410.9l16.2 16.2M910.9 410.9l-16.2 16.2M894.7 411.9l16.2 16.2M910.9 411.9l-16.2 16.2M894.7 412.9l16.2 16.2M910.9 412.9l-16.2 16.2M894.7 413.9l16.2 16.2M910.9 413.9l-16.2 16.2M894.7 414.9l16.2 16.2M910.9 414.9l-16.2 16.2M894.7 415.9l16.2 16.2M910.9 415.9l-16.2 16.2M894.7 416.9l16.2 16.2M910.9 416.9l-16.2 16.2M894.7 417.9l16.2 16.2M910.9 417.9l-16.2 16.2M894.7 418.9l16.2 16.2M910.9 418.9l-16.2 16.2M894.7 419.9l16.2 16.2M910.9 419.9l-16.2 16.2M894.7 420.9l16.2 16.2M910.9 420.9l-16.2 16.2M894.7 421.9l16.2 16.2M910.9 421.9l-16.2 16.2M894.7 422.9l16.2 16.2M910.9 422.9l-16.2 16.2M894.7 423.9l16.2 16.2M910.9 423.9l-16.2 16.2M894.7 424.9l16.2 16.2M910.9 424.9l-16.2 16.2M894.7 425.9l16.2 16.2M910.9 425.9l-16.2 16.2M894.7 426.9l16.2 16.2M910.9 426.9l-16.2 16.2M894.7 427.9l16.2 16.2M910.9 427.9l-16.2 16.2M894.7 428.9l16.2 16.2M910.9 428.9l-16.2 16.2M894.7 429.9l16.2 16.2M910.9 429.9l-16.2 16.2M894.7 430.9l16.2 16.2M910.9 430.9l-16.2 16.2M894.7 431.9l16.2 16.2M910.9 431.9l-16.2 16.2M894.7 432.9l16.2 16.2M910.9 432.9l-16.2 16.2M894.7 433.9l16.2 16.2M910.9 433.9l-16.2 16.2M894.7 434.9l16.2 16.2M910.9 434.9l-16.2 16.2M894.7 435.9l16.2 16.2M910.9 435.9l-16.2 16.2M894.7 436.9l16.2 16.2M910.9 436.9l-16.2 16.2M894.7 437.9l16.2 16.2M910.9 437.9l-16.2 16.2M894.7 438.9l16.2 16.2M910.9 438.9l-16.2 16.2M894.7 439.9l16.2 16.2M910.9 439.9l-16.2 16.2M894.7 440.9l16.2 16.2M910.9 440.9l-16.2 16.2M894.7 441.9l16.2 16.2M910.9 441.9l-16.2 16.2M894.7 442.9l16.2 16.2M910.9 442.9l-16.2 16.2M894.7 443.9l16.2 16.2M910.9 443.9l-16.2 16.2M894.7 444.9l16.2 16.2M910.9 444.9l-16.2 16.2M894.7 445.9l16.2 16.2M910.9 445.9l-16.2 16.2M894.7 446.9l16.2 16.2M910.9 446.9l-16.2 16.2M894.7 447.9l16.2 16.2M910.9 447.9l-16.2 16.2M894.7 448.9l16.2 16.2M910.9 448.9l-16.2 16.2M894.7 449.9l16.2 16.2M910.9 449.9l-16.2 16.2M894.7 450.9l16.2 16.2M910.9 450.9l-16.2 16.2M894.7 451.9l16.2 16.2M910.9 451.9l-16.2 16.2M894.7 452.9l16.2 16.2M910.9 452.9l-16.2 16.2M894.7 453.9l16.2 16.2M910.9 453.9l-16.2 16.2M894.7 454.9l16.2 16.2M910.9 454.9l-16.2 16.2M894.7 455.9l16.2 16.2M910.9 455.9l-16.2 16.2M894.7 456.9l16.2 16.2M910.9 456.9l-16.2 16.2M894.7 457.9l16.2 16.2M910.9 457.9l-16.2 16.2M894.7 458.9l16.2 16.2M910.9 458.9l-16.2 16.2M894.7 459.9l16.2 16.2M910.9 459.9l-16.2 16.2M894.7 460.9l16.2 16.2M910.9 460.9l-16.2 16.2M894.7 461.9l16.2 16.2M910.9 461.9l-16.2 16.2M894.7 462.9l16.2 16.2M910.9 462.9l-16.2 16.2M894.7 463.9l16.2 16.2M910.9 463.9l-16.2 16.2M894.7 464.9l16.2 16.2M910.9 464.9l-16.2 16.2M894.7 465.9l16.2 16.2M910.9 465.9l-16.2 16.2M894.7 466.9l16.2 16.2M910.9 466.9l-16.2 16.2M894.7 467.9l16.2 16.2M910.9 467.9l-16.2 16.2M894.7 468.9l16.2 16.2M910.9 468.9l-16.2 16.2M894.7 469.9l16.2 16.2M910.9 469.9l-16.2 16.2M894.7 470.9l16.2 16.2M910.9 470.9l-16.2 16.2M894.7 471.9l16.2 16.2M910.9 471.9l-16.2 16.2M894.7 472.9l16.2 16.2M910.9 472.9l-16.2 16.2M894.7 473.9l16.2 16.2M910.9 473.9l-16.2 16.2M894.7 474.9l16.2 16.2M910.9 474.9l-16.2 16.2M894.7 475.9l16.2 16.2M910.9 475.9l-16.2 16.2M894.7 476.9l16.2 16.2M910.9 476.9l-16.2 16.2M894.7 477.9l16.2 16.2M910.9 477.9l-16.2 16.2M894.7 478.9l16.2 16.2M910.9 478.9l-16.2 16.2M894.7 479.9l16.2 16.2M910.9 479.9l-16.2 16.2M894.7 480.9l16.2 16.2M910.9 480.9l-16.2 16.2M894.7 481.9l16.2 16.2M910.9 481.9l-16.2 16.2M894.7 482.9l16.2 16.2M910.9 482.9l-16.2 16.2M894.7 483.9l16.2 16.2M910.9 483.9l-16.2 16.2M894.7 484.9l16.2 16.2M910.9 484.9l-16.2 16.2M894.7 485.9l16.2 16.2M910.9 485.9l-16.2 16.2M894.7 486.9l16.2 16.2M910.9 486.9l-16.2 16.2M894.7 487.9l16.2 16.2M910.9 487.9l-16.2 16.2M894.7 488.9l16.2 16.2M910.9 488.9l-16.2 16.2M894.7 489.9l16.2 16.2M910.9 489.9l-16.2 16.2M894.7 490.9l16.2 16.2M910.9 490.9l-16.2 16.2M894.7 491.9l16.2 16.2M910.9 491.9l-16.2 16.2M894.7 492.9l16.2 16.2M910.9 492.9l-16.2 16.2M894.7 493.9l16.2 16.2M910.9 493.9l-16.2 16.2M894.7 494.9l16.2 16.2M910.9 494.9l-16.2 16.2M894.7 495.9l16.2 16.2M910.9 495.9l-16.2 16.2M894.7 496.9l16.2 16.2M910.9 496.9l-16.2 16.2M894.7 497.9l16.2 16.2M910.9 497.9l-16.2 16.2M894.7 498.9l16.2 16.2M910.9 498.9l-16.2 16.2M894.7 499.9l16.2 16.2M910.9 499.9l-16.2 16.2M894.7 500.9l16.2 16.2M910.9 500.9l-16.2 16.2M894.7 501.9l16.2 16.2M910.9 501.9l-16.2 16.2M894.7 502.9l16.2 16.2M910.9 502.9l-16.2 16.2M894.7 503.9l16.2 16.2M910.9 503.9l-16.2 16.2M894.7 504.9l16.2 16.2M910.9 504.9l-16.2 16.2M894.7 505.9l16.2 16.2M910.9 505.9l-16.2 16.2M894.7 506.9l16.2 16.2M910.9 506.9l-16.2 16.2M894.7 507.9l16.2 16.2M910.9 507.9l-16.2 16.2M894.7 508.9l16.2 16.2M910.9 508.9l-16.2 16.2M894.7 509.9l16.2 16.2M910.9 509.9l-16.2 16.2M894.7 510.9l16.2 16.2M910.9 510.9l-16.2 16.2M894.7 511.9l16.2 16.2M910.9 511.9l-16.2 16.2M894.7 512.9l16.2 16.2M910.9 512.9l-16.2 16.2M894.7 513.9l16.2 16.2M910.9 513.9l-16.2 16.2M894.7 514.9l16.2 16.2M910.9 514.9l-16.2 16.2M894.7 515.9l16.2 16.2M910.9 515.9l-16.2 16.2M894.7 516.9l16.2 16.2M910.9 516.9l-16.2 16.2M894.7 517.9l16.2 16.2M910.9 517.9l-16.2 16.2M894.7 518.9l16.2 16.2M910.9 518.9l-16.2 16.2M894.7 519.9l16.2 16.2M910.9 519.9l-16.2 16.2M894.7 520.9l16.2 16.2M910.9 520.9l-16.2 16.2M894.7 521.9l16.2 16.2M910.9 521.9l-16.2 16.2M894.7 522.9l16.2 16.2M910.9 522.9l-16.2 16.2M894.7 523.9l16.2 16.2M910.9 523.9l-16.2 16.2M894.7 524.9l16.2 16.2M910.9 524.9l-16.2 16.2M894.7 524.9l16.2 16.2M910.9 524.9l-16.2 16.2M894.7 525.0l16.2 16.2M910.9 525.0l-16.2 16.2M894.7 525.2l16.2 16.2M910.9 525.2l-16.2 16.2M894.7 528.9l16.2 16.2M910.9 528.9l-16.2 16.2M894.7 534.1l16.2 16.2M910.9 534.1l-16.2 16.2M894.7 532.4l16.2 16.2M910.9 532.4l-16.2 16.2M894.7 537.3l16.2 16.2M910.9 537.3l-16.2 16.2M894.7 537.0l16.2 16.2M910.9 537.0l-16.2 16.2M894.7 541.3l16.2 16.2M910.9 541.3l-16.2 16.2M894.7 541.7l16.2 16.2M910.9 541.7l-16.2 16.2M894.7 545.4l16.2 16.2M910.9 545.4l-16.2 16.2M894.7 546.5l16.2 16.2M910.9 546.5l-16.2 16.2M894.7 545.4l16.2 16.2M910.9 545.4l-16.2 16.2M894.7 623.0l16.2 16.2M910.9 623.0l-16.2 16.2M894.7 623.1l16.2 16.2M910.9 623.1l-16.2 16.2M894.7 629.8l16.2 16.2M910.9 629.8l-16.2 16.2M894.7 629.4l16.2 16.2M910.9 629.4l-16.2 16.2M894.7 629.7l16.2 16.2M910.9 629.7l-16.2 16.2M894.7 633.8l16.2 16.2M910.9 633.8l-16.2 16.2M894.7 633.0l16.2 16.2M910.9 633.0l-16.2 16.2M894.7 638.8l16.2 16.2M910.9 638.8l-16.2 16.2M894.7 637.9l16.2 16.2M910.9 637.9l-16.2 16.2M894.7 637.6l16.2 16.2M910.9 637.6l-16.2 16.2M894.7 641.4l16.2 16.2M910.9 641.4l-16.2 16.2M894.7 642.2l16.2 16.2M910.9 642.2l-16.2 16.2M894.7 641.7l16.2 16.2M910.9 641.7l-16.2 16.2M894.7 645.5l16.2 16.2M910.9 645.5l-16.2 16.2M894.7 645.0l16.2 16.2M910.9 645.0l-16.2 16.2M894.7 646.1l16.2 16.2M910.9 646.1l-16.2 16.2M894.7 549.9l16.2 16.2M910.9 549.9l-16.2 16.2M894.7 574.4l16.2 16.2M910.9 574.4l-16.2 16.2M894.7 577.9l16.2 16.2M910.9 577.9l-16.2 16.2M894.7 580.9l16.2 16.2M910.9 580.9l-16.2 16.2M894.7 594.5l16.2 16.2M910.9 594.5l-16.2 16.2M894.7 600.9l16.2 16.2M910.9 600.9l-16.2 16.2M894.7 620.2l16.2 16.2M910.9 620.2l-16.2 16.2"/></g><line x1="145.6" y1="611.7" x2="182.0" y2="611.7" stroke="#000" stroke-width="2.9" stroke-linecap="round"/><line x1="268.8" y1="591.7" x2="305.2" y2="591.7" stroke="#000" stroke-width="2.9" stroke-linecap="round"/><line x1="441.2" y1="523.9" x2="477.6" y2="523.9" stroke="#000" stroke-width="2.9" stroke-linecap="round"/><line x1="589.0" y1="521.4" x2="625.4" y2="521.4" stroke="#000" stroke-width="2.9" stroke-linecap="round"/><line x1="687.5" y1="479.4" x2="723.9" y2="479.4" stroke="#000" stroke-width="2.9" stroke-linecap="round"/><line x1="761.4" y1="455.4" x2="797.8" y2="455.4" stroke="#000" stroke-width="2.9" stroke-linecap="round"/><line x1="884.6" y1="433.8" x2="921.0" y2="433.8" stroke="#000" stroke-width="2.9" stroke-linecap="round"/><g font-family="Liberation Sans" font-weight="bold" fill="#000"><text x="163.8" y="698.3" font-size="29" text-anchor="middle">0</text><text x="287.0" y="698.3" font-size="29" text-anchor="middle">5</text><text x="410.1" y="698.3" font-size="29" text-anchor="middle">10</text><text x="533.3" y="698.3" font-size="29" text-anchor="middle">15</text><text x="656.5" y="698.3" font-size="29" text-anchor="middle">20</text><text x="779.6" y="698.3" font-size="29" text-anchor="middle">25</text><text x="902.8" y="698.3" font-size="29" text-anchor="middle">30</text><text transform="translate(117.6 663) scale(1 1.09)" font-size="29.3" text-anchor="end">0</text><text transform="translate(118.2 586.6) scale(1 1.09)" font-size="29.3" text-anchor="end">1x10<tspan font-size="20.5" dy="-10.6">3</tspan></text><text transform="translate(118.2 507.2) scale(1 1.09)" font-size="29.3" text-anchor="end">2x10<tspan font-size="20.5" dy="-10.6">3</tspan></text><text transform="translate(118.2 427.8) scale(1 1.09)" font-size="29.3" text-anchor="end">3x10<tspan font-size="20.5" dy="-10.6">3</tspan></text><text transform="translate(118.2 348.4) scale(1 1.09)" font-size="29.3" text-anchor="end">4x10<tspan font-size="20.5" dy="-10.6">3</tspan></text><text transform="translate(118.2 269.0) scale(1 1.09)" font-size="29.3" text-anchor="end">5x10<tspan font-size="20.5" dy="-10.6">3</tspan></text><text transform="translate(118.2 189.6) scale(1 1.09)" font-size="29.3" text-anchor="end">6x10<tspan font-size="20.5" dy="-10.6">3</tspan></text><text transform="translate(118.2 110.2) scale(1 1.09)" font-size="29.3" text-anchor="end">7x10<tspan font-size="20.5" dy="-10.6">3</tspan></text><text transform="translate(118.2 30.8) scale(1 1.09)" font-size="29.3" text-anchor="end">8x10<tspan font-size="20.5" dy="-10.6">3</tspan></text><text x="533" y="751.5" font-size="33" text-anchor="middle">Dose (kGy)</text><text transform="translate(27 336) rotate(-90)" font-size="33" text-anchor="middle">Fluorescence intensity at 533 nm (FITC-A)</text></g><rect x="148.2" y="19.7" width="176.5" height="298.3" fill="#fff" stroke="#555" stroke-width="1.3"/><path stroke="#222222" stroke-width="1.2" fill="none" d="M177.4 32.2l16.2 16.2M193.6 32.2l-16.2 16.2"/><text x="227.5" y="50.6" font-family="Liberation Sans" font-size="29.3" fill="#000">0 kGy</text><path stroke="#cc2222" stroke-width="1.2" fill="none" d="M177.4 69.0l16.2 16.2M193.6 69.0l-16.2 16.2"/><text x="227.5" y="87.3" font-family="Liberation Sans" font-size="29.3" fill="#000">5 kGy</text><path stroke="#2448d8" stroke-width="1.2" fill="none" d="M177.4 105.7l16.2 16.2M193.6 105.7l-16.2 16.2"/><text x="227.5" y="124.1" font-family="Liberation Sans" font-size="29.3" fill="#000">12 kGy</text><path stroke="#3c9042" stroke-width="1.2" fill="none" d="M177.4 142.5l16.2 16.2M193.6 142.5l-16.2 16.2"/><text x="227.5" y="160.9" font-family="Liberation Sans" font-size="29.3" fill="#000">18 kGy</text><path stroke="#7e46d8" stroke-width="1.2" fill="none" d="M177.4 179.2l16.2 16.2M193.6 179.2l-16.2 16.2"/><text x="227.5" y="197.6" font-family="Liberation Sans" font-size="29.3" fill="#000">22 kGy</text><path stroke="#ae8000" stroke-width="1.2" fill="none" d="M177.4 216.0l16.2 16.2M193.6 216.0l-16.2 16.2"/><text x="227.5" y="234.4" font-family="Liberation Sans" font-size="29.3" fill="#000">25 kGy</text><path stroke="#46b6b8" stroke-width="1.2" fill="none" d="M177.4 252.7l16.2 16.2M193.6 252.7l-16.2 16.2"/><text x="227.5" y="271.1" font-family="Liberation Sans" font-size="29.3" fill="#000">30 kGy</text><line x1="166" y1="297.6" x2="204" y2="297.6" stroke="#000" stroke-width="3"/><text x="227.5" y="307.9" font-family="Liberation Sans" font-size="29.3" fill="#000">mean</text></svg></body></html>
